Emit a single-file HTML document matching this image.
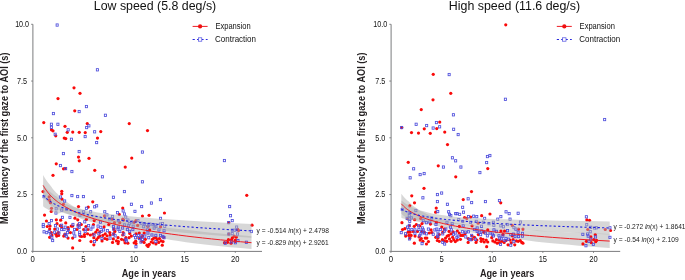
<!DOCTYPE html>
<html><head><meta charset="utf-8"><style>
html,body{margin:0;padding:0;background:#fff;width:685px;height:280px;overflow:hidden}
svg{display:block;will-change:transform}
text{font-family:"Liberation Sans",sans-serif;fill:#231f20}
.t{font-size:12.4px;fill:#111}
.lg{font-size:9.2px;fill:#111}
.tk{font-size:8.9px;fill:#111}
.ax{font-size:10.2px;font-weight:bold}
.eq{font-size:6.9px;fill:#1a1a1a}
</style></head><body>
<svg width="685" height="280" viewBox="0 0 685 280">
<g>
<text class="t" x="93.8" y="10.3" textLength="122.4" lengthAdjust="spacingAndGlyphs">Low speed (5.8 deg/s)</text>
<line x1="192.6" y1="26.4" x2="207.6" y2="26.4" stroke="#ee1c24" stroke-width="1"/>
<circle cx="200.1" cy="26.4" r="2.1" fill="#f01010"/>
<line x1="192.6" y1="39.5" x2="207.6" y2="39.5" stroke="#2b2bdd" stroke-width="1" stroke-dasharray="2.2,2.2"/>
<rect x="198.4" y="37.8" width="3.4" height="3.4" fill="#fff" stroke="#4a4ae0" stroke-width="0.7"/>
<text class="lg" x="215.4" y="28.8" textLength="35.3" lengthAdjust="spacingAndGlyphs">Expansion</text>
<text class="lg" x="215.1" y="41.8" textLength="40.9" lengthAdjust="spacingAndGlyphs">Contraction</text>
<text class="ax" transform="translate(7.6,224) rotate(-90)" x="0" y="0" textLength="171.5" lengthAdjust="spacingAndGlyphs">Mean latency of the first gaze to AOI (s)</text>
<text class="ax" x="121.7" y="276.6" textLength="54.5" lengthAdjust="spacingAndGlyphs">Age in years</text>
<path d="M32.90,24.30 V251.40 H262.0" fill="none" stroke="#7b7c7e" stroke-width="1.0"/>
<line x1="31.10" y1="251.30" x2="32.90" y2="251.30" stroke="#6d6e71" stroke-width="0.8"/>
<text class="tk" x="17.05" y="254.20" textLength="10.1" lengthAdjust="spacingAndGlyphs">0.0</text>
<line x1="31.10" y1="194.55" x2="32.90" y2="194.55" stroke="#6d6e71" stroke-width="0.8"/>
<text class="tk" x="17.05" y="197.45" textLength="10.1" lengthAdjust="spacingAndGlyphs">2.5</text>
<line x1="31.10" y1="137.80" x2="32.90" y2="137.80" stroke="#6d6e71" stroke-width="0.8"/>
<text class="tk" x="17.05" y="140.70" textLength="10.1" lengthAdjust="spacingAndGlyphs">5.0</text>
<line x1="31.10" y1="81.05" x2="32.90" y2="81.05" stroke="#6d6e71" stroke-width="0.8"/>
<text class="tk" x="17.05" y="83.95" textLength="10.1" lengthAdjust="spacingAndGlyphs">7.5</text>
<line x1="31.10" y1="24.30" x2="32.90" y2="24.30" stroke="#6d6e71" stroke-width="0.8"/>
<text class="tk" x="15.15" y="27.20" textLength="13.9" lengthAdjust="spacingAndGlyphs">10.0</text>
<line x1="32.70" y1="251.3" x2="32.70" y2="252.9" stroke="#6d6e71" stroke-width="0.8"/>
<text class="tk" x="30.55" y="261.6" textLength="4.3" lengthAdjust="spacingAndGlyphs">0</text>
<line x1="83.35" y1="251.3" x2="83.35" y2="252.9" stroke="#6d6e71" stroke-width="0.8"/>
<text class="tk" x="81.20" y="261.6" textLength="4.3" lengthAdjust="spacingAndGlyphs">5</text>
<line x1="134.00" y1="251.3" x2="134.00" y2="252.9" stroke="#6d6e71" stroke-width="0.8"/>
<text class="tk" x="129.80" y="261.6" textLength="8.4" lengthAdjust="spacingAndGlyphs">10</text>
<line x1="184.65" y1="251.3" x2="184.65" y2="252.9" stroke="#6d6e71" stroke-width="0.8"/>
<text class="tk" x="180.45" y="261.6" textLength="8.4" lengthAdjust="spacingAndGlyphs">15</text>
<line x1="235.30" y1="251.3" x2="235.30" y2="252.9" stroke="#6d6e71" stroke-width="0.8"/>
<text class="tk" x="231.10" y="261.6" textLength="8.4" lengthAdjust="spacingAndGlyphs">20</text>
<path d="M43.13,174.94 L43.68,175.92 L44.25,176.92 L44.85,177.94 L45.48,178.97 L46.15,180.01 L46.85,181.04 L47.58,182.05 L48.36,183.05 L49.17,184.02 L50.03,185.03 L50.93,186.23 L51.88,187.56 L52.87,188.97 L53.92,190.34 L55.03,191.61 L56.19,192.70 L57.41,193.79 L58.70,195.22 L60.05,196.80 L61.47,198.28 L62.97,199.47 L64.54,200.48 L66.20,201.59 L67.94,202.79 L69.78,204.03 L71.71,205.28 L73.74,206.48 L75.87,207.60 L78.12,208.61 L80.48,209.59 L82.97,210.62 L85.58,211.68 L88.33,212.74 L91.23,213.80 L94.27,214.82 L97.48,215.79 L100.85,216.72 L104.39,217.60 L108.12,218.45 L112.05,219.29 L116.17,220.14 L120.52,221.04 L125.09,221.97 L129.89,222.83 L134.95,223.59 L140.27,224.33 L145.87,225.13 L151.75,226.04 L157.95,226.88 L164.46,227.61 L171.32,228.30 L178.53,229.01 L186.12,229.83 L194.10,230.77 L202.50,231.71 L211.33,232.63 L220.62,233.54 L230.40,234.45 L240.69,235.37 L251.51,236.30 L251.51,249.10 L240.69,248.12 L230.40,247.13 L220.62,246.14 L211.33,245.14 L202.50,244.15 L194.10,243.18 L186.12,242.20 L178.53,241.12 L171.32,239.92 L164.46,238.70 L157.95,237.52 L151.75,236.45 L145.87,235.46 L140.27,234.35 L134.95,233.18 L129.89,232.03 L125.09,230.98 L120.52,230.00 L116.17,228.99 L112.05,227.94 L108.12,226.87 L104.39,225.81 L100.85,224.78 L97.48,223.79 L94.27,222.86 L91.23,221.97 L88.33,221.12 L85.58,220.28 L82.97,219.42 L80.48,218.54 L78.12,217.61 L75.87,216.72 L73.74,215.93 L71.71,215.22 L69.78,214.56 L67.94,213.89 L66.20,213.18 L64.54,212.38 L62.97,211.48 L61.47,210.76 L60.05,210.34 L58.70,210.01 L57.41,209.52 L56.19,208.71 L55.03,207.89 L53.92,207.25 L52.87,206.72 L51.88,206.21 L50.93,205.64 L50.03,204.92 L49.17,204.02 L48.36,203.09 L47.58,202.18 L46.85,201.28 L46.15,200.40 L45.48,199.53 L44.85,198.65 L44.25,197.76 L43.68,196.86 L43.13,195.93 Z" fill="#afafaf" fill-opacity="0.5"/>
<circle cx="74.00" cy="87.80" r="1.6" fill="#fa0a0a"/>
<circle cx="80.00" cy="93.30" r="1.6" fill="#fa0a0a"/>
<circle cx="58.00" cy="98.55" r="1.6" fill="#fa0a0a"/>
<circle cx="74.75" cy="110.80" r="1.6" fill="#fa0a0a"/>
<circle cx="43.75" cy="122.55" r="1.6" fill="#fa0a0a"/>
<circle cx="65.00" cy="126.30" r="1.6" fill="#fa0a0a"/>
<circle cx="87.25" cy="123.55" r="1.6" fill="#fa0a0a"/>
<circle cx="129.25" cy="123.55" r="1.6" fill="#fa0a0a"/>
<circle cx="147.50" cy="130.55" r="1.6" fill="#fa0a0a"/>
<circle cx="51.50" cy="129.80" r="1.6" fill="#fa0a0a"/>
<circle cx="53.00" cy="130.80" r="1.6" fill="#fa0a0a"/>
<circle cx="67.25" cy="132.30" r="1.6" fill="#fa0a0a"/>
<circle cx="72.75" cy="132.05" r="1.6" fill="#fa0a0a"/>
<circle cx="79.25" cy="132.30" r="1.6" fill="#fa0a0a"/>
<circle cx="85.25" cy="132.55" r="1.6" fill="#fa0a0a"/>
<circle cx="100.75" cy="131.55" r="1.6" fill="#fa0a0a"/>
<circle cx="55.75" cy="135.80" r="1.6" fill="#fa0a0a"/>
<circle cx="64.25" cy="138.05" r="1.6" fill="#fa0a0a"/>
<circle cx="65.75" cy="138.55" r="1.6" fill="#fa0a0a"/>
<circle cx="97.50" cy="138.05" r="1.6" fill="#fa0a0a"/>
<circle cx="56.25" cy="163.80" r="1.6" fill="#fa0a0a"/>
<circle cx="78.50" cy="157.05" r="1.6" fill="#fa0a0a"/>
<circle cx="79.25" cy="160.80" r="1.6" fill="#fa0a0a"/>
<circle cx="89.00" cy="158.30" r="1.6" fill="#fa0a0a"/>
<circle cx="131.75" cy="158.05" r="1.6" fill="#fa0a0a"/>
<circle cx="125.25" cy="167.05" r="1.6" fill="#fa0a0a"/>
<circle cx="63.50" cy="168.80" r="1.6" fill="#fa0a0a"/>
<circle cx="65.00" cy="168.55" r="1.6" fill="#fa0a0a"/>
<circle cx="94.75" cy="170.30" r="1.6" fill="#fa0a0a"/>
<circle cx="53.00" cy="175.30" r="1.6" fill="#fa0a0a"/>
<circle cx="43.00" cy="191.55" r="1.6" fill="#fa0a0a"/>
<circle cx="61.75" cy="191.30" r="1.6" fill="#fa0a0a"/>
<circle cx="61.75" cy="193.80" r="1.6" fill="#fa0a0a"/>
<circle cx="62.00" cy="199.05" r="1.6" fill="#fa0a0a"/>
<circle cx="92.75" cy="201.80" r="1.6" fill="#fa0a0a"/>
<circle cx="78.50" cy="206.55" r="1.6" fill="#fa0a0a"/>
<circle cx="88.25" cy="207.05" r="1.6" fill="#fa0a0a"/>
<circle cx="122.75" cy="208.05" r="1.6" fill="#fa0a0a"/>
<circle cx="51.50" cy="208.30" r="1.6" fill="#fa0a0a"/>
<circle cx="246.75" cy="195.30" r="1.6" fill="#fa0a0a"/>
<circle cx="49.15" cy="196.90" r="1.6" fill="#fa0a0a"/>
<circle cx="49.45" cy="200.20" r="1.6" fill="#fa0a0a"/>
<circle cx="50.45" cy="202.70" r="1.6" fill="#fa0a0a"/>
<circle cx="63.35" cy="204.30" r="1.6" fill="#fa0a0a"/>
<circle cx="51.25" cy="211.40" r="1.6" fill="#fa0a0a"/>
<circle cx="119.25" cy="214.40" r="1.6" fill="#fa0a0a"/>
<circle cx="142.45" cy="216.00" r="1.6" fill="#fa0a0a"/>
<circle cx="149.05" cy="215.30" r="1.6" fill="#fa0a0a"/>
<circle cx="112.25" cy="219.20" r="1.6" fill="#fa0a0a"/>
<circle cx="122.75" cy="219.20" r="1.6" fill="#fa0a0a"/>
<circle cx="123.65" cy="220.10" r="1.6" fill="#fa0a0a"/>
<circle cx="134.15" cy="222.30" r="1.6" fill="#fa0a0a"/>
<circle cx="135.95" cy="220.60" r="1.6" fill="#fa0a0a"/>
<circle cx="137.65" cy="225.40" r="1.6" fill="#fa0a0a"/>
<circle cx="114.45" cy="222.70" r="1.6" fill="#fa0a0a"/>
<circle cx="108.75" cy="224.50" r="1.6" fill="#fa0a0a"/>
<circle cx="119.75" cy="222.70" r="1.6" fill="#fa0a0a"/>
<circle cx="147.75" cy="226.30" r="1.6" fill="#fa0a0a"/>
<circle cx="164.45" cy="213.00" r="1.6" fill="#fa0a0a"/>
<circle cx="160.55" cy="226.80" r="1.6" fill="#fa0a0a"/>
<circle cx="228.75" cy="222.60" r="1.6" fill="#fa0a0a"/>
<circle cx="252.05" cy="225.20" r="1.6" fill="#fa0a0a"/>
<circle cx="237.65" cy="229.30" r="1.6" fill="#fa0a0a"/>
<circle cx="238.55" cy="230.60" r="1.6" fill="#fa0a0a"/>
<circle cx="228.85" cy="234.00" r="1.6" fill="#fa0a0a"/>
<circle cx="234.15" cy="236.20" r="1.6" fill="#fa0a0a"/>
<circle cx="236.35" cy="237.10" r="1.6" fill="#fa0a0a"/>
<circle cx="232.35" cy="237.90" r="1.6" fill="#fa0a0a"/>
<circle cx="228.45" cy="239.70" r="1.6" fill="#fa0a0a"/>
<circle cx="231.55" cy="239.70" r="1.6" fill="#fa0a0a"/>
<circle cx="235.45" cy="240.10" r="1.6" fill="#fa0a0a"/>
<circle cx="224.55" cy="242.70" r="1.6" fill="#fa0a0a"/>
<circle cx="227.55" cy="242.30" r="1.6" fill="#fa0a0a"/>
<circle cx="231.05" cy="243.20" r="1.6" fill="#fa0a0a"/>
<circle cx="235.05" cy="241.40" r="1.6" fill="#fa0a0a"/>
<circle cx="72.65" cy="238.10" r="1.6" fill="#fa0a0a"/>
<circle cx="79.75" cy="240.50" r="1.6" fill="#fa0a0a"/>
<circle cx="72.65" cy="247.90" r="1.6" fill="#fa0a0a"/>
<circle cx="80.05" cy="236.10" r="1.6" fill="#fa0a0a"/>
<circle cx="81.65" cy="236.50" r="1.6" fill="#fa0a0a"/>
<circle cx="84.45" cy="234.60" r="1.6" fill="#fa0a0a"/>
<circle cx="84.45" cy="236.50" r="1.6" fill="#fa0a0a"/>
<circle cx="87.55" cy="233.80" r="1.6" fill="#fa0a0a"/>
<circle cx="90.35" cy="235.00" r="1.6" fill="#fa0a0a"/>
<circle cx="91.05" cy="241.60" r="1.6" fill="#fa0a0a"/>
<circle cx="93.85" cy="244.80" r="1.6" fill="#fa0a0a"/>
<circle cx="93.85" cy="237.70" r="1.6" fill="#fa0a0a"/>
<circle cx="96.55" cy="239.70" r="1.6" fill="#fa0a0a"/>
<circle cx="98.15" cy="237.70" r="1.6" fill="#fa0a0a"/>
<circle cx="99.75" cy="236.10" r="1.6" fill="#fa0a0a"/>
<circle cx="102.05" cy="240.90" r="1.6" fill="#fa0a0a"/>
<circle cx="95.75" cy="232.20" r="1.6" fill="#fa0a0a"/>
<circle cx="97.35" cy="229.90" r="1.6" fill="#fa0a0a"/>
<circle cx="99.75" cy="232.20" r="1.6" fill="#fa0a0a"/>
<circle cx="102.85" cy="235.40" r="1.6" fill="#fa0a0a"/>
<circle cx="104.85" cy="238.50" r="1.6" fill="#fa0a0a"/>
<circle cx="105.25" cy="233.80" r="1.6" fill="#fa0a0a"/>
<circle cx="87.95" cy="229.50" r="1.6" fill="#fa0a0a"/>
<circle cx="83.65" cy="229.50" r="1.6" fill="#fa0a0a"/>
<circle cx="76.95" cy="229.50" r="1.6" fill="#fa0a0a"/>
<circle cx="93.05" cy="234.20" r="1.6" fill="#fa0a0a"/>
<circle cx="107.05" cy="235.80" r="1.6" fill="#fa0a0a"/>
<circle cx="107.05" cy="239.30" r="1.6" fill="#fa0a0a"/>
<circle cx="109.75" cy="232.60" r="1.6" fill="#fa0a0a"/>
<circle cx="110.15" cy="235.00" r="1.6" fill="#fa0a0a"/>
<circle cx="112.55" cy="242.40" r="1.6" fill="#fa0a0a"/>
<circle cx="113.75" cy="233.80" r="1.6" fill="#fa0a0a"/>
<circle cx="113.35" cy="238.90" r="1.6" fill="#fa0a0a"/>
<circle cx="114.85" cy="231.40" r="1.6" fill="#fa0a0a"/>
<circle cx="116.45" cy="240.90" r="1.6" fill="#fa0a0a"/>
<circle cx="118.05" cy="243.60" r="1.6" fill="#fa0a0a"/>
<circle cx="118.05" cy="237.70" r="1.6" fill="#fa0a0a"/>
<circle cx="118.45" cy="241.60" r="1.6" fill="#fa0a0a"/>
<circle cx="121.55" cy="239.30" r="1.6" fill="#fa0a0a"/>
<circle cx="122.75" cy="235.00" r="1.6" fill="#fa0a0a"/>
<circle cx="123.15" cy="232.60" r="1.6" fill="#fa0a0a"/>
<circle cx="123.95" cy="240.10" r="1.6" fill="#fa0a0a"/>
<circle cx="125.05" cy="242.80" r="1.6" fill="#fa0a0a"/>
<circle cx="125.85" cy="237.70" r="1.6" fill="#fa0a0a"/>
<circle cx="127.85" cy="243.20" r="1.6" fill="#fa0a0a"/>
<circle cx="129.05" cy="237.70" r="1.6" fill="#fa0a0a"/>
<circle cx="129.75" cy="233.40" r="1.6" fill="#fa0a0a"/>
<circle cx="131.35" cy="236.10" r="1.6" fill="#fa0a0a"/>
<circle cx="134.15" cy="242.80" r="1.6" fill="#fa0a0a"/>
<circle cx="135.65" cy="241.20" r="1.6" fill="#fa0a0a"/>
<circle cx="136.05" cy="243.60" r="1.6" fill="#fa0a0a"/>
<circle cx="136.05" cy="233.80" r="1.6" fill="#fa0a0a"/>
<circle cx="138.85" cy="238.10" r="1.6" fill="#fa0a0a"/>
<circle cx="139.25" cy="233.00" r="1.6" fill="#fa0a0a"/>
<circle cx="114.05" cy="229.10" r="1.6" fill="#fa0a0a"/>
<circle cx="141.05" cy="237.70" r="1.6" fill="#fa0a0a"/>
<circle cx="141.85" cy="241.30" r="1.6" fill="#fa0a0a"/>
<circle cx="144.15" cy="242.40" r="1.6" fill="#fa0a0a"/>
<circle cx="145.35" cy="239.30" r="1.6" fill="#fa0a0a"/>
<circle cx="146.95" cy="245.20" r="1.6" fill="#fa0a0a"/>
<circle cx="148.05" cy="246.40" r="1.6" fill="#fa0a0a"/>
<circle cx="149.25" cy="244.40" r="1.6" fill="#fa0a0a"/>
<circle cx="151.25" cy="242.00" r="1.6" fill="#fa0a0a"/>
<circle cx="152.45" cy="239.30" r="1.6" fill="#fa0a0a"/>
<circle cx="153.25" cy="242.80" r="1.6" fill="#fa0a0a"/>
<circle cx="153.95" cy="238.10" r="1.6" fill="#fa0a0a"/>
<circle cx="155.95" cy="244.00" r="1.6" fill="#fa0a0a"/>
<circle cx="157.15" cy="239.70" r="1.6" fill="#fa0a0a"/>
<circle cx="158.65" cy="242.40" r="1.6" fill="#fa0a0a"/>
<circle cx="159.45" cy="238.50" r="1.6" fill="#fa0a0a"/>
<circle cx="161.05" cy="240.90" r="1.6" fill="#fa0a0a"/>
<circle cx="162.25" cy="245.20" r="1.6" fill="#fa0a0a"/>
<circle cx="163.45" cy="237.30" r="1.6" fill="#fa0a0a"/>
<circle cx="163.05" cy="241.60" r="1.6" fill="#fa0a0a"/>
<circle cx="144.15" cy="233.00" r="1.6" fill="#fa0a0a"/>
<circle cx="149.65" cy="229.90" r="1.6" fill="#fa0a0a"/>
<circle cx="142.65" cy="236.10" r="1.6" fill="#fa0a0a"/>
<circle cx="155.95" cy="237.70" r="1.6" fill="#fa0a0a"/>
<circle cx="49.65" cy="229.10" r="1.6" fill="#fa0a0a"/>
<circle cx="54.75" cy="229.10" r="1.6" fill="#fa0a0a"/>
<circle cx="51.25" cy="232.60" r="1.6" fill="#fa0a0a"/>
<circle cx="51.95" cy="235.00" r="1.6" fill="#fa0a0a"/>
<circle cx="49.65" cy="237.30" r="1.6" fill="#fa0a0a"/>
<circle cx="55.95" cy="234.20" r="1.6" fill="#fa0a0a"/>
<circle cx="56.65" cy="236.10" r="1.6" fill="#fa0a0a"/>
<circle cx="58.65" cy="235.40" r="1.6" fill="#fa0a0a"/>
<circle cx="58.25" cy="232.60" r="1.6" fill="#fa0a0a"/>
<circle cx="63.75" cy="236.10" r="1.6" fill="#fa0a0a"/>
<circle cx="64.95" cy="234.20" r="1.6" fill="#fa0a0a"/>
<circle cx="68.05" cy="238.10" r="1.6" fill="#fa0a0a"/>
<circle cx="70.45" cy="232.60" r="1.6" fill="#fa0a0a"/>
<circle cx="68.05" cy="229.10" r="1.6" fill="#fa0a0a"/>
<circle cx="44.55" cy="215.10" r="1.6" fill="#fa0a0a"/>
<circle cx="46.45" cy="221.00" r="1.6" fill="#fa0a0a"/>
<circle cx="56.35" cy="219.80" r="1.6" fill="#fa0a0a"/>
<circle cx="60.65" cy="220.20" r="1.6" fill="#fa0a0a"/>
<circle cx="65.75" cy="222.90" r="1.6" fill="#fa0a0a"/>
<circle cx="57.05" cy="223.70" r="1.6" fill="#fa0a0a"/>
<circle cx="47.25" cy="226.50" r="1.6" fill="#fa0a0a"/>
<circle cx="50.05" cy="226.10" r="1.6" fill="#fa0a0a"/>
<circle cx="60.25" cy="225.70" r="1.6" fill="#fa0a0a"/>
<circle cx="61.75" cy="226.90" r="1.6" fill="#fa0a0a"/>
<circle cx="68.05" cy="227.60" r="1.6" fill="#fa0a0a"/>
<circle cx="71.25" cy="226.10" r="1.6" fill="#fa0a0a"/>
<circle cx="74.95" cy="218.20" r="1.6" fill="#fa0a0a"/>
<circle cx="77.75" cy="219.80" r="1.6" fill="#fa0a0a"/>
<circle cx="72.65" cy="226.10" r="1.6" fill="#fa0a0a"/>
<circle cx="81.25" cy="224.50" r="1.6" fill="#fa0a0a"/>
<circle cx="78.15" cy="224.90" r="1.6" fill="#fa0a0a"/>
<circle cx="86.35" cy="219.40" r="1.6" fill="#fa0a0a"/>
<circle cx="85.95" cy="226.50" r="1.6" fill="#fa0a0a"/>
<circle cx="93.45" cy="224.50" r="1.6" fill="#fa0a0a"/>
<circle cx="94.25" cy="220.60" r="1.6" fill="#fa0a0a"/>
<circle cx="104.05" cy="226.90" r="1.6" fill="#fa0a0a"/>
<circle cx="104.45" cy="215.90" r="1.6" fill="#fa0a0a"/>
<rect x="56.10" y="23.90" width="2.1" height="2.3" fill="none" stroke="#4f4fdc" stroke-width="0.85"/>
<rect x="96.35" y="68.65" width="2.1" height="2.3" fill="none" stroke="#4f4fdc" stroke-width="0.85"/>
<rect x="85.35" y="105.40" width="2.1" height="2.3" fill="none" stroke="#4f4fdc" stroke-width="0.85"/>
<rect x="52.35" y="112.40" width="2.1" height="2.3" fill="none" stroke="#4f4fdc" stroke-width="0.85"/>
<rect x="78.10" y="110.40" width="2.1" height="2.3" fill="none" stroke="#4f4fdc" stroke-width="0.85"/>
<rect x="104.35" y="114.15" width="2.1" height="2.3" fill="none" stroke="#4f4fdc" stroke-width="0.85"/>
<rect x="50.35" y="123.15" width="2.1" height="2.3" fill="none" stroke="#4f4fdc" stroke-width="0.85"/>
<rect x="56.85" y="123.15" width="2.1" height="2.3" fill="none" stroke="#4f4fdc" stroke-width="0.85"/>
<rect x="50.35" y="126.15" width="2.1" height="2.3" fill="none" stroke="#4f4fdc" stroke-width="0.85"/>
<rect x="67.10" y="128.65" width="2.1" height="2.3" fill="none" stroke="#4f4fdc" stroke-width="0.85"/>
<rect x="87.85" y="124.65" width="2.1" height="2.3" fill="none" stroke="#4f4fdc" stroke-width="0.85"/>
<rect x="85.60" y="126.40" width="2.1" height="2.3" fill="none" stroke="#4f4fdc" stroke-width="0.85"/>
<rect x="93.60" y="130.65" width="2.1" height="2.3" fill="none" stroke="#4f4fdc" stroke-width="0.85"/>
<rect x="54.10" y="133.15" width="2.1" height="2.3" fill="none" stroke="#4f4fdc" stroke-width="0.85"/>
<rect x="84.10" y="135.40" width="2.1" height="2.3" fill="none" stroke="#4f4fdc" stroke-width="0.85"/>
<rect x="70.35" y="138.15" width="2.1" height="2.3" fill="none" stroke="#4f4fdc" stroke-width="0.85"/>
<rect x="95.60" y="141.40" width="2.1" height="2.3" fill="none" stroke="#4f4fdc" stroke-width="0.85"/>
<rect x="62.35" y="152.40" width="2.1" height="2.3" fill="none" stroke="#4f4fdc" stroke-width="0.85"/>
<rect x="78.10" y="150.40" width="2.1" height="2.3" fill="none" stroke="#4f4fdc" stroke-width="0.85"/>
<rect x="141.35" y="150.90" width="2.1" height="2.3" fill="none" stroke="#4f4fdc" stroke-width="0.85"/>
<rect x="59.35" y="164.40" width="2.1" height="2.3" fill="none" stroke="#4f4fdc" stroke-width="0.85"/>
<rect x="64.60" y="167.40" width="2.1" height="2.3" fill="none" stroke="#4f4fdc" stroke-width="0.85"/>
<rect x="70.85" y="170.40" width="2.1" height="2.3" fill="none" stroke="#4f4fdc" stroke-width="0.85"/>
<rect x="101.35" y="175.65" width="2.1" height="2.3" fill="none" stroke="#4f4fdc" stroke-width="0.85"/>
<rect x="141.35" y="180.65" width="2.1" height="2.3" fill="none" stroke="#4f4fdc" stroke-width="0.85"/>
<rect x="70.85" y="194.40" width="2.1" height="2.3" fill="none" stroke="#4f4fdc" stroke-width="0.85"/>
<rect x="76.60" y="195.40" width="2.1" height="2.3" fill="none" stroke="#4f4fdc" stroke-width="0.85"/>
<rect x="82.35" y="195.40" width="2.1" height="2.3" fill="none" stroke="#4f4fdc" stroke-width="0.85"/>
<rect x="112.35" y="196.15" width="2.1" height="2.3" fill="none" stroke="#4f4fdc" stroke-width="0.85"/>
<rect x="123.35" y="190.40" width="2.1" height="2.3" fill="none" stroke="#4f4fdc" stroke-width="0.85"/>
<rect x="59.35" y="195.90" width="2.1" height="2.3" fill="none" stroke="#4f4fdc" stroke-width="0.85"/>
<rect x="63.60" y="199.90" width="2.1" height="2.3" fill="none" stroke="#4f4fdc" stroke-width="0.85"/>
<rect x="130.35" y="203.15" width="2.1" height="2.3" fill="none" stroke="#4f4fdc" stroke-width="0.85"/>
<rect x="140.60" y="205.40" width="2.1" height="2.3" fill="none" stroke="#4f4fdc" stroke-width="0.85"/>
<rect x="150.35" y="201.90" width="2.1" height="2.3" fill="none" stroke="#4f4fdc" stroke-width="0.85"/>
<rect x="159.35" y="198.40" width="2.1" height="2.3" fill="none" stroke="#4f4fdc" stroke-width="0.85"/>
<rect x="95.60" y="204.65" width="2.1" height="2.3" fill="none" stroke="#4f4fdc" stroke-width="0.85"/>
<rect x="93.60" y="205.65" width="2.1" height="2.3" fill="none" stroke="#4f4fdc" stroke-width="0.85"/>
<rect x="85.35" y="207.15" width="2.1" height="2.3" fill="none" stroke="#4f4fdc" stroke-width="0.85"/>
<rect x="223.35" y="159.40" width="2.1" height="2.3" fill="none" stroke="#4f4fdc" stroke-width="0.85"/>
<rect x="228.60" y="205.40" width="2.1" height="2.3" fill="none" stroke="#4f4fdc" stroke-width="0.85"/>
<rect x="42.90" y="195.45" width="2.1" height="2.3" fill="none" stroke="#4f4fdc" stroke-width="0.85"/>
<rect x="60.70" y="208.95" width="2.1" height="2.3" fill="none" stroke="#4f4fdc" stroke-width="0.85"/>
<rect x="65.60" y="208.05" width="2.1" height="2.3" fill="none" stroke="#4f4fdc" stroke-width="0.85"/>
<rect x="89.60" y="210.65" width="2.1" height="2.3" fill="none" stroke="#4f4fdc" stroke-width="0.85"/>
<rect x="82.60" y="210.65" width="2.1" height="2.3" fill="none" stroke="#4f4fdc" stroke-width="0.85"/>
<rect x="55.10" y="207.65" width="2.1" height="2.3" fill="none" stroke="#4f4fdc" stroke-width="0.85"/>
<rect x="103.70" y="210.65" width="2.1" height="2.3" fill="none" stroke="#4f4fdc" stroke-width="0.85"/>
<rect x="116.40" y="211.55" width="2.1" height="2.3" fill="none" stroke="#4f4fdc" stroke-width="0.85"/>
<rect x="122.10" y="209.75" width="2.1" height="2.3" fill="none" stroke="#4f4fdc" stroke-width="0.85"/>
<rect x="123.40" y="212.85" width="2.1" height="2.3" fill="none" stroke="#4f4fdc" stroke-width="0.85"/>
<rect x="124.70" y="215.95" width="2.1" height="2.3" fill="none" stroke="#4f4fdc" stroke-width="0.85"/>
<rect x="133.90" y="210.25" width="2.1" height="2.3" fill="none" stroke="#4f4fdc" stroke-width="0.85"/>
<rect x="105.90" y="213.75" width="2.1" height="2.3" fill="none" stroke="#4f4fdc" stroke-width="0.85"/>
<rect x="111.50" y="215.45" width="2.1" height="2.3" fill="none" stroke="#4f4fdc" stroke-width="0.85"/>
<rect x="108.50" y="217.65" width="2.1" height="2.3" fill="none" stroke="#4f4fdc" stroke-width="0.85"/>
<rect x="117.20" y="219.45" width="2.1" height="2.3" fill="none" stroke="#4f4fdc" stroke-width="0.85"/>
<rect x="126.90" y="218.95" width="2.1" height="2.3" fill="none" stroke="#4f4fdc" stroke-width="0.85"/>
<rect x="128.20" y="222.45" width="2.1" height="2.3" fill="none" stroke="#4f4fdc" stroke-width="0.85"/>
<rect x="130.80" y="220.75" width="2.1" height="2.3" fill="none" stroke="#4f4fdc" stroke-width="0.85"/>
<rect x="136.90" y="219.45" width="2.1" height="2.3" fill="none" stroke="#4f4fdc" stroke-width="0.85"/>
<rect x="140.00" y="222.05" width="2.1" height="2.3" fill="none" stroke="#4f4fdc" stroke-width="0.85"/>
<rect x="143.10" y="222.45" width="2.1" height="2.3" fill="none" stroke="#4f4fdc" stroke-width="0.85"/>
<rect x="145.70" y="223.35" width="2.1" height="2.3" fill="none" stroke="#4f4fdc" stroke-width="0.85"/>
<rect x="148.80" y="222.95" width="2.1" height="2.3" fill="none" stroke="#4f4fdc" stroke-width="0.85"/>
<rect x="151.80" y="223.35" width="2.1" height="2.3" fill="none" stroke="#4f4fdc" stroke-width="0.85"/>
<rect x="154.50" y="223.75" width="2.1" height="2.3" fill="none" stroke="#4f4fdc" stroke-width="0.85"/>
<rect x="112.40" y="225.55" width="2.1" height="2.3" fill="none" stroke="#4f4fdc" stroke-width="0.85"/>
<rect x="117.20" y="225.95" width="2.1" height="2.3" fill="none" stroke="#4f4fdc" stroke-width="0.85"/>
<rect x="121.60" y="226.85" width="2.1" height="2.3" fill="none" stroke="#4f4fdc" stroke-width="0.85"/>
<rect x="123.40" y="223.75" width="2.1" height="2.3" fill="none" stroke="#4f4fdc" stroke-width="0.85"/>
<rect x="127.30" y="224.65" width="2.1" height="2.3" fill="none" stroke="#4f4fdc" stroke-width="0.85"/>
<rect x="132.10" y="225.15" width="2.1" height="2.3" fill="none" stroke="#4f4fdc" stroke-width="0.85"/>
<rect x="142.60" y="225.55" width="2.1" height="2.3" fill="none" stroke="#4f4fdc" stroke-width="0.85"/>
<rect x="147.40" y="224.65" width="2.1" height="2.3" fill="none" stroke="#4f4fdc" stroke-width="0.85"/>
<rect x="153.10" y="226.85" width="2.1" height="2.3" fill="none" stroke="#4f4fdc" stroke-width="0.85"/>
<rect x="159.50" y="217.25" width="2.1" height="2.3" fill="none" stroke="#4f4fdc" stroke-width="0.85"/>
<rect x="161.50" y="222.55" width="2.1" height="2.3" fill="none" stroke="#4f4fdc" stroke-width="0.85"/>
<rect x="159.40" y="222.95" width="2.1" height="2.3" fill="none" stroke="#4f4fdc" stroke-width="0.85"/>
<rect x="163.70" y="225.15" width="2.1" height="2.3" fill="none" stroke="#4f4fdc" stroke-width="0.85"/>
<rect x="155.00" y="225.15" width="2.1" height="2.3" fill="none" stroke="#4f4fdc" stroke-width="0.85"/>
<rect x="229.50" y="214.55" width="2.1" height="2.3" fill="none" stroke="#4f4fdc" stroke-width="0.85"/>
<rect x="231.20" y="219.45" width="2.1" height="2.3" fill="none" stroke="#4f4fdc" stroke-width="0.85"/>
<rect x="227.60" y="221.45" width="2.1" height="2.3" fill="none" stroke="#4f4fdc" stroke-width="0.85"/>
<rect x="235.60" y="225.95" width="2.1" height="2.3" fill="none" stroke="#4f4fdc" stroke-width="0.85"/>
<rect x="231.20" y="229.05" width="2.1" height="2.3" fill="none" stroke="#4f4fdc" stroke-width="0.85"/>
<rect x="233.90" y="229.05" width="2.1" height="2.3" fill="none" stroke="#4f4fdc" stroke-width="0.85"/>
<rect x="250.30" y="230.35" width="2.1" height="2.3" fill="none" stroke="#4f4fdc" stroke-width="0.85"/>
<rect x="227.70" y="232.85" width="2.1" height="2.3" fill="none" stroke="#4f4fdc" stroke-width="0.85"/>
<rect x="231.20" y="232.45" width="2.1" height="2.3" fill="none" stroke="#4f4fdc" stroke-width="0.85"/>
<rect x="236.50" y="232.85" width="2.1" height="2.3" fill="none" stroke="#4f4fdc" stroke-width="0.85"/>
<rect x="236.90" y="239.45" width="2.1" height="2.3" fill="none" stroke="#4f4fdc" stroke-width="0.85"/>
<rect x="234.30" y="241.55" width="2.1" height="2.3" fill="none" stroke="#4f4fdc" stroke-width="0.85"/>
<rect x="245.30" y="241.15" width="2.1" height="2.3" fill="none" stroke="#4f4fdc" stroke-width="0.85"/>
<rect x="230.40" y="240.75" width="2.1" height="2.3" fill="none" stroke="#4f4fdc" stroke-width="0.85"/>
<rect x="224.20" y="242.05" width="2.1" height="2.3" fill="none" stroke="#4f4fdc" stroke-width="0.85"/>
<rect x="73.50" y="228.35" width="2.1" height="2.3" fill="none" stroke="#4f4fdc" stroke-width="0.85"/>
<rect x="72.70" y="231.85" width="2.1" height="2.3" fill="none" stroke="#4f4fdc" stroke-width="0.85"/>
<rect x="73.80" y="234.95" width="2.1" height="2.3" fill="none" stroke="#4f4fdc" stroke-width="0.85"/>
<rect x="78.60" y="231.05" width="2.1" height="2.3" fill="none" stroke="#4f4fdc" stroke-width="0.85"/>
<rect x="78.60" y="233.45" width="2.1" height="2.3" fill="none" stroke="#4f4fdc" stroke-width="0.85"/>
<rect x="84.10" y="230.25" width="2.1" height="2.3" fill="none" stroke="#4f4fdc" stroke-width="0.85"/>
<rect x="84.80" y="227.95" width="2.1" height="2.3" fill="none" stroke="#4f4fdc" stroke-width="0.85"/>
<rect x="93.50" y="240.45" width="2.1" height="2.3" fill="none" stroke="#4f4fdc" stroke-width="0.85"/>
<rect x="93.10" y="233.85" width="2.1" height="2.3" fill="none" stroke="#4f4fdc" stroke-width="0.85"/>
<rect x="97.80" y="232.65" width="2.1" height="2.3" fill="none" stroke="#4f4fdc" stroke-width="0.85"/>
<rect x="100.90" y="237.35" width="2.1" height="2.3" fill="none" stroke="#4f4fdc" stroke-width="0.85"/>
<rect x="102.50" y="228.75" width="2.1" height="2.3" fill="none" stroke="#4f4fdc" stroke-width="0.85"/>
<rect x="89.90" y="227.95" width="2.1" height="2.3" fill="none" stroke="#4f4fdc" stroke-width="0.85"/>
<rect x="100.10" y="230.25" width="2.1" height="2.3" fill="none" stroke="#4f4fdc" stroke-width="0.85"/>
<rect x="106.30" y="229.55" width="2.1" height="2.3" fill="none" stroke="#4f4fdc" stroke-width="0.85"/>
<rect x="109.00" y="236.95" width="2.1" height="2.3" fill="none" stroke="#4f4fdc" stroke-width="0.85"/>
<rect x="112.20" y="233.05" width="2.1" height="2.3" fill="none" stroke="#4f4fdc" stroke-width="0.85"/>
<rect x="114.10" y="234.65" width="2.1" height="2.3" fill="none" stroke="#4f4fdc" stroke-width="0.85"/>
<rect x="112.60" y="227.95" width="2.1" height="2.3" fill="none" stroke="#4f4fdc" stroke-width="0.85"/>
<rect x="116.90" y="227.95" width="2.1" height="2.3" fill="none" stroke="#4f4fdc" stroke-width="0.85"/>
<rect x="118.80" y="230.25" width="2.1" height="2.3" fill="none" stroke="#4f4fdc" stroke-width="0.85"/>
<rect x="122.80" y="233.05" width="2.1" height="2.3" fill="none" stroke="#4f4fdc" stroke-width="0.85"/>
<rect x="124.70" y="238.15" width="2.1" height="2.3" fill="none" stroke="#4f4fdc" stroke-width="0.85"/>
<rect x="125.50" y="239.75" width="2.1" height="2.3" fill="none" stroke="#4f4fdc" stroke-width="0.85"/>
<rect x="128.60" y="230.25" width="2.1" height="2.3" fill="none" stroke="#4f4fdc" stroke-width="0.85"/>
<rect x="133.40" y="234.25" width="2.1" height="2.3" fill="none" stroke="#4f4fdc" stroke-width="0.85"/>
<rect x="134.50" y="236.55" width="2.1" height="2.3" fill="none" stroke="#4f4fdc" stroke-width="0.85"/>
<rect x="134.90" y="245.55" width="2.1" height="2.3" fill="none" stroke="#4f4fdc" stroke-width="0.85"/>
<rect x="137.30" y="234.25" width="2.1" height="2.3" fill="none" stroke="#4f4fdc" stroke-width="0.85"/>
<rect x="138.50" y="237.35" width="2.1" height="2.3" fill="none" stroke="#4f4fdc" stroke-width="0.85"/>
<rect x="126.30" y="228.35" width="2.1" height="2.3" fill="none" stroke="#4f4fdc" stroke-width="0.85"/>
<rect x="131.80" y="228.35" width="2.1" height="2.3" fill="none" stroke="#4f4fdc" stroke-width="0.85"/>
<rect x="140.70" y="234.65" width="2.1" height="2.3" fill="none" stroke="#4f4fdc" stroke-width="0.85"/>
<rect x="141.50" y="238.15" width="2.1" height="2.3" fill="none" stroke="#4f4fdc" stroke-width="0.85"/>
<rect x="143.80" y="234.95" width="2.1" height="2.3" fill="none" stroke="#4f4fdc" stroke-width="0.85"/>
<rect x="146.90" y="231.85" width="2.1" height="2.3" fill="none" stroke="#4f4fdc" stroke-width="0.85"/>
<rect x="147.70" y="236.55" width="2.1" height="2.3" fill="none" stroke="#4f4fdc" stroke-width="0.85"/>
<rect x="150.90" y="233.85" width="2.1" height="2.3" fill="none" stroke="#4f4fdc" stroke-width="0.85"/>
<rect x="154.80" y="234.25" width="2.1" height="2.3" fill="none" stroke="#4f4fdc" stroke-width="0.85"/>
<rect x="154.80" y="240.45" width="2.1" height="2.3" fill="none" stroke="#4f4fdc" stroke-width="0.85"/>
<rect x="159.50" y="234.25" width="2.1" height="2.3" fill="none" stroke="#4f4fdc" stroke-width="0.85"/>
<rect x="161.90" y="235.35" width="2.1" height="2.3" fill="none" stroke="#4f4fdc" stroke-width="0.85"/>
<rect x="163.00" y="236.55" width="2.1" height="2.3" fill="none" stroke="#4f4fdc" stroke-width="0.85"/>
<rect x="139.90" y="240.85" width="2.1" height="2.3" fill="none" stroke="#4f4fdc" stroke-width="0.85"/>
<rect x="146.20" y="228.75" width="2.1" height="2.3" fill="none" stroke="#4f4fdc" stroke-width="0.85"/>
<rect x="157.90" y="228.75" width="2.1" height="2.3" fill="none" stroke="#4f4fdc" stroke-width="0.85"/>
<rect x="163.00" y="229.55" width="2.1" height="2.3" fill="none" stroke="#4f4fdc" stroke-width="0.85"/>
<rect x="43.00" y="230.65" width="2.1" height="2.3" fill="none" stroke="#4f4fdc" stroke-width="0.85"/>
<rect x="45.70" y="231.45" width="2.1" height="2.3" fill="none" stroke="#4f4fdc" stroke-width="0.85"/>
<rect x="48.10" y="230.25" width="2.1" height="2.3" fill="none" stroke="#4f4fdc" stroke-width="0.85"/>
<rect x="49.70" y="233.05" width="2.1" height="2.3" fill="none" stroke="#4f4fdc" stroke-width="0.85"/>
<rect x="50.80" y="236.55" width="2.1" height="2.3" fill="none" stroke="#4f4fdc" stroke-width="0.85"/>
<rect x="51.60" y="239.35" width="2.1" height="2.3" fill="none" stroke="#4f4fdc" stroke-width="0.85"/>
<rect x="53.60" y="231.05" width="2.1" height="2.3" fill="none" stroke="#4f4fdc" stroke-width="0.85"/>
<rect x="56.30" y="227.95" width="2.1" height="2.3" fill="none" stroke="#4f4fdc" stroke-width="0.85"/>
<rect x="57.90" y="231.85" width="2.1" height="2.3" fill="none" stroke="#4f4fdc" stroke-width="0.85"/>
<rect x="60.60" y="228.35" width="2.1" height="2.3" fill="none" stroke="#4f4fdc" stroke-width="0.85"/>
<rect x="63.00" y="228.35" width="2.1" height="2.3" fill="none" stroke="#4f4fdc" stroke-width="0.85"/>
<rect x="64.20" y="233.45" width="2.1" height="2.3" fill="none" stroke="#4f4fdc" stroke-width="0.85"/>
<rect x="65.40" y="234.95" width="2.1" height="2.3" fill="none" stroke="#4f4fdc" stroke-width="0.85"/>
<rect x="66.50" y="231.45" width="2.1" height="2.3" fill="none" stroke="#4f4fdc" stroke-width="0.85"/>
<rect x="67.30" y="228.35" width="2.1" height="2.3" fill="none" stroke="#4f4fdc" stroke-width="0.85"/>
<rect x="50.40" y="219.45" width="2.1" height="2.3" fill="none" stroke="#4f4fdc" stroke-width="0.85"/>
<rect x="48.10" y="222.55" width="2.1" height="2.3" fill="none" stroke="#4f4fdc" stroke-width="0.85"/>
<rect x="42.20" y="223.35" width="2.1" height="2.3" fill="none" stroke="#4f4fdc" stroke-width="0.85"/>
<rect x="42.20" y="225.35" width="2.1" height="2.3" fill="none" stroke="#4f4fdc" stroke-width="0.85"/>
<rect x="54.40" y="224.55" width="2.1" height="2.3" fill="none" stroke="#4f4fdc" stroke-width="0.85"/>
<rect x="61.40" y="216.25" width="2.1" height="2.3" fill="none" stroke="#4f4fdc" stroke-width="0.85"/>
<rect x="68.90" y="216.25" width="2.1" height="2.3" fill="none" stroke="#4f4fdc" stroke-width="0.85"/>
<rect x="60.60" y="224.15" width="2.1" height="2.3" fill="none" stroke="#4f4fdc" stroke-width="0.85"/>
<rect x="64.20" y="226.05" width="2.1" height="2.3" fill="none" stroke="#4f4fdc" stroke-width="0.85"/>
<rect x="54.90" y="211.85" width="2.1" height="2.3" fill="none" stroke="#4f4fdc" stroke-width="0.85"/>
<rect x="83.70" y="220.65" width="2.1" height="2.3" fill="none" stroke="#4f4fdc" stroke-width="0.85"/>
<rect x="87.60" y="224.55" width="2.1" height="2.3" fill="none" stroke="#4f4fdc" stroke-width="0.85"/>
<rect x="77.00" y="224.95" width="2.1" height="2.3" fill="none" stroke="#4f4fdc" stroke-width="0.85"/>
<rect x="78.20" y="226.15" width="2.1" height="2.3" fill="none" stroke="#4f4fdc" stroke-width="0.85"/>
<rect x="78.60" y="222.55" width="2.1" height="2.3" fill="none" stroke="#4f4fdc" stroke-width="0.85"/>
<rect x="91.90" y="225.75" width="2.1" height="2.3" fill="none" stroke="#4f4fdc" stroke-width="0.85"/>
<rect x="97.00" y="224.95" width="2.1" height="2.3" fill="none" stroke="#4f4fdc" stroke-width="0.85"/>
<rect x="99.70" y="226.15" width="2.1" height="2.3" fill="none" stroke="#4f4fdc" stroke-width="0.85"/>
<rect x="99.40" y="220.95" width="2.1" height="2.3" fill="none" stroke="#4f4fdc" stroke-width="0.85"/>
<rect x="71.90" y="223.35" width="2.1" height="2.3" fill="none" stroke="#4f4fdc" stroke-width="0.85"/>
<rect x="78.90" y="213.95" width="2.1" height="2.3" fill="none" stroke="#4f4fdc" stroke-width="0.85"/>
<path d="M43.13,184.37 L43.68,185.04 L44.25,185.78 L44.85,186.57 L45.48,187.39 L46.15,188.22 L46.85,189.03 L47.58,189.81 L48.36,190.53 L49.17,191.18 L50.03,191.80 L50.93,192.51 L51.88,193.29 L52.87,194.11 L53.92,194.91 L55.03,195.66 L56.19,196.32 L57.41,197.15 L58.70,198.56 L60.05,200.24 L61.47,201.77 L62.97,202.78 L64.54,203.39 L66.20,204.06 L67.94,204.76 L69.78,205.49 L71.71,206.22 L73.74,206.93 L75.87,207.60 L78.12,208.21 L80.48,208.81 L82.97,209.42 L85.58,210.03 L88.33,210.64 L91.23,211.26 L94.27,211.86 L97.48,212.46 L100.85,213.00 L104.39,213.47 L108.12,213.90 L112.05,214.31 L116.17,214.74 L120.52,215.23 L125.09,215.80 L129.89,216.31 L134.95,216.73 L140.27,217.14 L145.87,217.60 L151.75,218.15 L157.95,218.67 L164.46,219.10 L171.32,219.50 L178.53,219.93 L186.12,220.43 L194.10,221.00 L202.50,221.53 L211.33,222.02 L220.62,222.48 L230.40,222.95 L240.69,223.44 L251.51,223.97 L251.51,237.75 L240.69,237.10 L230.40,236.41 L220.62,235.69 L211.33,234.97 L202.50,234.27 L194.10,233.62 L186.12,233.01 L178.53,232.32 L171.32,231.56 L164.46,230.78 L157.95,230.03 L151.75,229.36 L145.87,228.74 L140.27,228.01 L134.95,227.23 L129.89,226.48 L125.09,225.80 L120.52,225.18 L116.17,224.49 L112.05,223.74 L108.12,222.97 L104.39,222.21 L100.85,221.50 L97.48,220.86 L94.27,220.27 L91.23,219.69 L88.33,219.12 L85.58,218.55 L82.97,217.98 L80.48,217.40 L78.12,216.81 L75.87,216.25 L73.74,215.74 L71.71,215.26 L69.78,214.80 L67.94,214.35 L66.20,213.87 L64.54,213.35 L62.97,212.78 L61.47,212.61 L60.05,212.95 L58.70,213.45 L57.41,213.68 L56.19,213.32 L55.03,212.80 L53.92,212.36 L52.87,211.98 L51.88,211.62 L50.93,211.22 L50.03,210.74 L49.17,210.18 L48.36,209.65 L47.58,209.18 L46.85,208.78 L46.15,208.41 L45.48,208.05 L44.85,207.69 L44.25,207.30 L43.68,206.85 L43.13,206.34 Z" fill="#afafaf" fill-opacity="0.5"/>
<path d="M43.13,185.43 L43.68,186.39 L44.25,187.34 L44.85,188.30 L45.48,189.25 L46.15,190.21 L46.85,191.16 L47.58,192.11 L48.36,193.07 L49.17,194.02 L50.03,194.98 L50.93,195.93 L51.88,196.89 L52.87,197.84 L53.92,198.80 L55.03,199.75 L56.19,200.70 L57.41,201.66 L58.70,202.61 L60.05,203.57 L61.47,204.52 L62.97,205.48 L64.54,206.43 L66.20,207.39 L67.94,208.34 L69.78,209.29 L71.71,210.25 L73.74,211.20 L75.87,212.16 L78.12,213.11 L80.48,214.07 L82.97,215.02 L85.58,215.98 L88.33,216.93 L91.23,217.88 L94.27,218.84 L97.48,219.79 L100.85,220.75 L104.39,221.70 L108.12,222.66 L112.05,223.61 L116.17,224.57 L120.52,225.52 L125.09,226.47 L129.89,227.43 L134.95,228.38 L140.27,229.34 L145.87,230.29 L151.75,231.25 L157.95,232.20 L164.46,233.16 L171.32,234.11 L178.53,235.06 L186.12,236.02 L194.10,236.97 L202.50,237.93 L211.33,238.88 L220.62,239.84 L230.40,240.79 L240.69,241.75 L251.51,242.70" fill="none" stroke="#ee1c24" stroke-width="1"/>
<path d="M43.13,195.35 L43.68,195.95 L44.25,196.54 L44.85,197.13 L45.48,197.72 L46.15,198.31 L46.85,198.90 L47.58,199.50 L48.36,200.09 L49.17,200.68 L50.03,201.27 L50.93,201.86 L51.88,202.45 L52.87,203.05 L53.92,203.64 L55.03,204.23 L56.19,204.82 L57.41,205.41 L58.70,206.01 L60.05,206.60 L61.47,207.19 L62.97,207.78 L64.54,208.37 L66.20,208.96 L67.94,209.56 L69.78,210.15 L71.71,210.74 L73.74,211.33 L75.87,211.92 L78.12,212.51 L80.48,213.11 L82.97,213.70 L85.58,214.29 L88.33,214.88 L91.23,215.47 L94.27,216.07 L97.48,216.66 L100.85,217.25 L104.39,217.84 L108.12,218.43 L112.05,219.02 L116.17,219.62 L120.52,220.21 L125.09,220.80 L129.89,221.39 L134.95,221.98 L140.27,222.58 L145.87,223.17 L151.75,223.76 L157.95,224.35 L164.46,224.94 L171.32,225.53 L178.53,226.13 L186.12,226.72 L194.10,227.31 L202.50,227.90 L211.33,228.49 L220.62,229.08 L230.40,229.68 L240.69,230.27 L251.51,230.86" fill="none" stroke="#2020e0" stroke-width="1.1" stroke-dasharray="2.2,2.2"/>
<text class="eq" x="256.6" y="232.9" textLength="72.4" lengthAdjust="spacingAndGlyphs">y = -0.514 <tspan font-style="italic">ln</tspan>(x) + 2.4798</text>
<text class="eq" x="256.6" y="245.0" textLength="72.0" lengthAdjust="spacingAndGlyphs">y = -0.829 <tspan font-style="italic">ln</tspan>(x) + 2.9261</text>
</g>
<g>
<text class="t" x="448.8" y="10.3" textLength="131.3" lengthAdjust="spacingAndGlyphs">High speed (11.6 deg/s)</text>
<line x1="556.8" y1="26.4" x2="571.8" y2="26.4" stroke="#ee1c24" stroke-width="1"/>
<circle cx="564.3" cy="26.4" r="2.1" fill="#f01010"/>
<line x1="556.8" y1="39.5" x2="571.8" y2="39.5" stroke="#2b2bdd" stroke-width="1" stroke-dasharray="2.2,2.2"/>
<rect x="562.5999999999999" y="37.8" width="3.4" height="3.4" fill="#fff" stroke="#4a4ae0" stroke-width="0.7"/>
<text class="lg" x="579.6" y="28.8" textLength="35.3" lengthAdjust="spacingAndGlyphs">Expansion</text>
<text class="lg" x="579.3" y="41.8" textLength="40.9" lengthAdjust="spacingAndGlyphs">Contraction</text>
<text class="ax" transform="translate(365.0,224) rotate(-90)" x="0" y="0" textLength="171.5" lengthAdjust="spacingAndGlyphs">Mean latency of the first gaze to AOI (s)</text>
<text class="ax" x="479.9" y="276.6" textLength="54.5" lengthAdjust="spacingAndGlyphs">Age in years</text>
<path d="M391.10,24.30 V251.40 H620.2" fill="none" stroke="#7b7c7e" stroke-width="1.0"/>
<line x1="389.30" y1="251.30" x2="391.10" y2="251.30" stroke="#6d6e71" stroke-width="0.8"/>
<text class="tk" x="375.25" y="254.20" textLength="10.1" lengthAdjust="spacingAndGlyphs">0.0</text>
<line x1="389.30" y1="194.55" x2="391.10" y2="194.55" stroke="#6d6e71" stroke-width="0.8"/>
<text class="tk" x="375.25" y="197.45" textLength="10.1" lengthAdjust="spacingAndGlyphs">2.5</text>
<line x1="389.30" y1="137.80" x2="391.10" y2="137.80" stroke="#6d6e71" stroke-width="0.8"/>
<text class="tk" x="375.25" y="140.70" textLength="10.1" lengthAdjust="spacingAndGlyphs">5.0</text>
<line x1="389.30" y1="81.05" x2="391.10" y2="81.05" stroke="#6d6e71" stroke-width="0.8"/>
<text class="tk" x="375.25" y="83.95" textLength="10.1" lengthAdjust="spacingAndGlyphs">7.5</text>
<line x1="389.30" y1="24.30" x2="391.10" y2="24.30" stroke="#6d6e71" stroke-width="0.8"/>
<text class="tk" x="373.35" y="27.20" textLength="13.9" lengthAdjust="spacingAndGlyphs">10.0</text>
<line x1="390.90" y1="251.3" x2="390.90" y2="252.9" stroke="#6d6e71" stroke-width="0.8"/>
<text class="tk" x="388.75" y="261.6" textLength="4.3" lengthAdjust="spacingAndGlyphs">0</text>
<line x1="441.55" y1="251.3" x2="441.55" y2="252.9" stroke="#6d6e71" stroke-width="0.8"/>
<text class="tk" x="439.40" y="261.6" textLength="4.3" lengthAdjust="spacingAndGlyphs">5</text>
<line x1="492.20" y1="251.3" x2="492.20" y2="252.9" stroke="#6d6e71" stroke-width="0.8"/>
<text class="tk" x="488.00" y="261.6" textLength="8.4" lengthAdjust="spacingAndGlyphs">10</text>
<line x1="542.85" y1="251.3" x2="542.85" y2="252.9" stroke="#6d6e71" stroke-width="0.8"/>
<text class="tk" x="538.65" y="261.6" textLength="8.4" lengthAdjust="spacingAndGlyphs">15</text>
<line x1="593.50" y1="251.3" x2="593.50" y2="252.9" stroke="#6d6e71" stroke-width="0.8"/>
<text class="tk" x="589.30" y="261.6" textLength="8.4" lengthAdjust="spacingAndGlyphs">20</text>
<path d="M401.33,193.80 L401.88,194.47 L402.45,195.19 L403.05,195.95 L403.68,196.72 L404.35,197.50 L405.05,198.27 L405.78,199.01 L406.56,199.72 L407.37,200.38 L408.23,201.06 L409.13,201.92 L410.08,202.92 L411.07,203.99 L412.12,205.04 L413.23,205.97 L414.39,206.73 L415.61,207.46 L416.90,208.43 L418.25,209.52 L419.67,210.54 L421.17,211.34 L422.74,212.01 L424.40,212.79 L426.14,213.65 L427.98,214.57 L429.91,215.48 L431.94,216.35 L434.07,217.14 L436.32,217.82 L438.68,218.47 L441.17,219.16 L443.78,219.88 L446.53,220.62 L449.43,221.34 L452.47,222.03 L455.68,222.67 L459.05,223.27 L462.59,223.85 L466.32,224.41 L470.25,224.96 L474.37,225.53 L478.72,226.11 L483.29,226.72 L488.09,227.24 L493.15,227.67 L498.47,228.08 L504.07,228.54 L509.95,229.12 L516.15,229.60 L522.66,229.93 L529.52,230.20 L536.73,230.51 L544.32,230.96 L552.30,231.54 L560.70,232.04 L569.53,232.46 L578.82,232.82 L588.60,233.19 L598.89,233.60 L609.71,234.11 L609.71,248.07 L598.89,247.34 L588.60,246.51 L578.82,245.63 L569.53,244.75 L560.70,243.92 L552.30,243.18 L544.32,242.52 L536.73,241.72 L529.52,240.79 L522.66,239.82 L516.15,238.91 L509.95,238.14 L504.07,237.47 L498.47,236.70 L493.15,235.86 L488.09,235.04 L483.29,234.32 L478.72,233.69 L474.37,233.03 L470.25,232.35 L466.32,231.66 L462.59,230.98 L459.05,230.31 L455.68,229.67 L452.47,229.07 L449.43,228.51 L446.53,227.99 L443.78,227.48 L441.17,226.96 L438.68,226.41 L436.32,225.82 L434.07,225.25 L431.94,224.80 L429.91,224.43 L427.98,224.10 L426.14,223.76 L424.40,223.38 L422.74,222.92 L421.17,222.35 L419.67,221.90 L418.25,221.68 L416.90,221.53 L415.61,221.26 L414.39,220.74 L413.23,220.25 L412.12,219.94 L411.07,219.75 L410.08,219.57 L409.13,219.33 L408.23,218.95 L407.37,218.39 L406.56,217.80 L405.78,217.27 L405.05,216.77 L404.35,216.29 L403.68,215.83 L403.05,215.36 L402.45,214.87 L401.88,214.35 L401.33,213.78 Z" fill="#afafaf" fill-opacity="0.5"/>
<circle cx="505.75" cy="24.80" r="1.6" fill="#fa0a0a"/>
<circle cx="433.25" cy="74.30" r="1.6" fill="#fa0a0a"/>
<circle cx="450.75" cy="93.30" r="1.6" fill="#fa0a0a"/>
<circle cx="433.00" cy="99.80" r="1.6" fill="#fa0a0a"/>
<circle cx="421.25" cy="109.55" r="1.6" fill="#fa0a0a"/>
<circle cx="439.75" cy="122.05" r="1.6" fill="#fa0a0a"/>
<circle cx="401.75" cy="127.55" r="1.6" fill="#fa0a0a"/>
<circle cx="411.50" cy="132.55" r="1.6" fill="#fa0a0a"/>
<circle cx="418.50" cy="133.05" r="1.6" fill="#fa0a0a"/>
<circle cx="424.25" cy="128.80" r="1.6" fill="#fa0a0a"/>
<circle cx="430.25" cy="133.30" r="1.6" fill="#fa0a0a"/>
<circle cx="436.75" cy="128.55" r="1.6" fill="#fa0a0a"/>
<circle cx="444.75" cy="132.05" r="1.6" fill="#fa0a0a"/>
<circle cx="447.50" cy="144.55" r="1.6" fill="#fa0a0a"/>
<circle cx="408.25" cy="162.30" r="1.6" fill="#fa0a0a"/>
<circle cx="438.25" cy="165.80" r="1.6" fill="#fa0a0a"/>
<circle cx="455.75" cy="176.80" r="1.6" fill="#fa0a0a"/>
<circle cx="487.75" cy="168.55" r="1.6" fill="#fa0a0a"/>
<circle cx="424.00" cy="188.30" r="1.6" fill="#fa0a0a"/>
<circle cx="411.75" cy="195.80" r="1.6" fill="#fa0a0a"/>
<circle cx="471.50" cy="191.55" r="1.6" fill="#fa0a0a"/>
<circle cx="414.50" cy="202.80" r="1.6" fill="#fa0a0a"/>
<circle cx="463.25" cy="199.55" r="1.6" fill="#fa0a0a"/>
<circle cx="436.25" cy="208.05" r="1.6" fill="#fa0a0a"/>
<circle cx="500.75" cy="202.80" r="1.6" fill="#fa0a0a"/>
<circle cx="409.75" cy="205.80" r="1.6" fill="#fa0a0a"/>
<circle cx="435.65" cy="212.20" r="1.6" fill="#fa0a0a"/>
<circle cx="401.95" cy="222.70" r="1.6" fill="#fa0a0a"/>
<circle cx="407.65" cy="218.80" r="1.6" fill="#fa0a0a"/>
<circle cx="414.65" cy="219.70" r="1.6" fill="#fa0a0a"/>
<circle cx="420.75" cy="218.40" r="1.6" fill="#fa0a0a"/>
<circle cx="422.05" cy="223.60" r="1.6" fill="#fa0a0a"/>
<circle cx="416.35" cy="224.50" r="1.6" fill="#fa0a0a"/>
<circle cx="414.25" cy="226.30" r="1.6" fill="#fa0a0a"/>
<circle cx="409.35" cy="225.80" r="1.6" fill="#fa0a0a"/>
<circle cx="419.85" cy="225.80" r="1.6" fill="#fa0a0a"/>
<circle cx="430.45" cy="224.10" r="1.6" fill="#fa0a0a"/>
<circle cx="436.55" cy="222.30" r="1.6" fill="#fa0a0a"/>
<circle cx="441.75" cy="227.10" r="1.6" fill="#fa0a0a"/>
<circle cx="481.65" cy="215.70" r="1.6" fill="#fa0a0a"/>
<circle cx="489.95" cy="214.00" r="1.6" fill="#fa0a0a"/>
<circle cx="470.65" cy="217.10" r="1.6" fill="#fa0a0a"/>
<circle cx="464.55" cy="217.50" r="1.6" fill="#fa0a0a"/>
<circle cx="466.75" cy="218.40" r="1.6" fill="#fa0a0a"/>
<circle cx="478.15" cy="223.20" r="1.6" fill="#fa0a0a"/>
<circle cx="472.05" cy="225.80" r="1.6" fill="#fa0a0a"/>
<circle cx="459.35" cy="226.30" r="1.6" fill="#fa0a0a"/>
<circle cx="512.25" cy="225.40" r="1.6" fill="#fa0a0a"/>
<circle cx="586.85" cy="219.90" r="1.6" fill="#fa0a0a"/>
<circle cx="589.55" cy="220.30" r="1.6" fill="#fa0a0a"/>
<circle cx="587.75" cy="229.50" r="1.6" fill="#fa0a0a"/>
<circle cx="605.25" cy="229.50" r="1.6" fill="#fa0a0a"/>
<circle cx="610.55" cy="230.50" r="1.6" fill="#fa0a0a"/>
<circle cx="595.25" cy="234.70" r="1.6" fill="#fa0a0a"/>
<circle cx="590.85" cy="236.90" r="1.6" fill="#fa0a0a"/>
<circle cx="593.85" cy="239.60" r="1.6" fill="#fa0a0a"/>
<circle cx="596.55" cy="240.40" r="1.6" fill="#fa0a0a"/>
<circle cx="586.45" cy="241.30" r="1.6" fill="#fa0a0a"/>
<circle cx="591.25" cy="242.60" r="1.6" fill="#fa0a0a"/>
<circle cx="582.95" cy="243.90" r="1.6" fill="#fa0a0a"/>
<circle cx="595.65" cy="241.70" r="1.6" fill="#fa0a0a"/>
<circle cx="402.55" cy="229.50" r="1.6" fill="#fa0a0a"/>
<circle cx="404.85" cy="228.70" r="1.6" fill="#fa0a0a"/>
<circle cx="405.65" cy="236.10" r="1.6" fill="#fa0a0a"/>
<circle cx="408.05" cy="232.20" r="1.6" fill="#fa0a0a"/>
<circle cx="409.95" cy="232.20" r="1.6" fill="#fa0a0a"/>
<circle cx="408.85" cy="235.40" r="1.6" fill="#fa0a0a"/>
<circle cx="411.15" cy="235.40" r="1.6" fill="#fa0a0a"/>
<circle cx="409.95" cy="238.10" r="1.6" fill="#fa0a0a"/>
<circle cx="414.35" cy="243.20" r="1.6" fill="#fa0a0a"/>
<circle cx="415.05" cy="236.10" r="1.6" fill="#fa0a0a"/>
<circle cx="413.15" cy="231.40" r="1.6" fill="#fa0a0a"/>
<circle cx="417.45" cy="231.40" r="1.6" fill="#fa0a0a"/>
<circle cx="419.05" cy="236.90" r="1.6" fill="#fa0a0a"/>
<circle cx="420.15" cy="240.10" r="1.6" fill="#fa0a0a"/>
<circle cx="421.35" cy="238.50" r="1.6" fill="#fa0a0a"/>
<circle cx="422.95" cy="241.30" r="1.6" fill="#fa0a0a"/>
<circle cx="425.25" cy="238.10" r="1.6" fill="#fa0a0a"/>
<circle cx="426.85" cy="238.10" r="1.6" fill="#fa0a0a"/>
<circle cx="426.45" cy="244.00" r="1.6" fill="#fa0a0a"/>
<circle cx="428.45" cy="241.60" r="1.6" fill="#fa0a0a"/>
<circle cx="429.25" cy="233.00" r="1.6" fill="#fa0a0a"/>
<circle cx="422.15" cy="231.40" r="1.6" fill="#fa0a0a"/>
<circle cx="424.15" cy="232.20" r="1.6" fill="#fa0a0a"/>
<circle cx="431.05" cy="229.90" r="1.6" fill="#fa0a0a"/>
<circle cx="431.85" cy="232.60" r="1.6" fill="#fa0a0a"/>
<circle cx="437.35" cy="240.50" r="1.6" fill="#fa0a0a"/>
<circle cx="439.25" cy="241.30" r="1.6" fill="#fa0a0a"/>
<circle cx="435.75" cy="237.30" r="1.6" fill="#fa0a0a"/>
<circle cx="438.05" cy="237.70" r="1.6" fill="#fa0a0a"/>
<circle cx="442.45" cy="239.70" r="1.6" fill="#fa0a0a"/>
<circle cx="444.35" cy="240.90" r="1.6" fill="#fa0a0a"/>
<circle cx="445.55" cy="238.10" r="1.6" fill="#fa0a0a"/>
<circle cx="447.15" cy="236.10" r="1.6" fill="#fa0a0a"/>
<circle cx="448.65" cy="235.40" r="1.6" fill="#fa0a0a"/>
<circle cx="446.75" cy="241.30" r="1.6" fill="#fa0a0a"/>
<circle cx="449.45" cy="238.90" r="1.6" fill="#fa0a0a"/>
<circle cx="451.05" cy="241.30" r="1.6" fill="#fa0a0a"/>
<circle cx="452.65" cy="237.30" r="1.6" fill="#fa0a0a"/>
<circle cx="453.75" cy="239.70" r="1.6" fill="#fa0a0a"/>
<circle cx="455.35" cy="241.60" r="1.6" fill="#fa0a0a"/>
<circle cx="457.35" cy="240.10" r="1.6" fill="#fa0a0a"/>
<circle cx="451.05" cy="233.80" r="1.6" fill="#fa0a0a"/>
<circle cx="453.05" cy="231.80" r="1.6" fill="#fa0a0a"/>
<circle cx="449.05" cy="231.40" r="1.6" fill="#fa0a0a"/>
<circle cx="457.35" cy="231.00" r="1.6" fill="#fa0a0a"/>
<circle cx="459.25" cy="233.00" r="1.6" fill="#fa0a0a"/>
<circle cx="460.85" cy="235.40" r="1.6" fill="#fa0a0a"/>
<circle cx="460.45" cy="239.30" r="1.6" fill="#fa0a0a"/>
<circle cx="462.85" cy="235.40" r="1.6" fill="#fa0a0a"/>
<circle cx="444.35" cy="229.10" r="1.6" fill="#fa0a0a"/>
<circle cx="439.25" cy="234.60" r="1.6" fill="#fa0a0a"/>
<circle cx="442.85" cy="232.20" r="1.6" fill="#fa0a0a"/>
<circle cx="465.05" cy="233.80" r="1.6" fill="#fa0a0a"/>
<circle cx="468.15" cy="238.50" r="1.6" fill="#fa0a0a"/>
<circle cx="468.15" cy="242.40" r="1.6" fill="#fa0a0a"/>
<circle cx="472.05" cy="239.30" r="1.6" fill="#fa0a0a"/>
<circle cx="474.45" cy="237.30" r="1.6" fill="#fa0a0a"/>
<circle cx="476.05" cy="242.40" r="1.6" fill="#fa0a0a"/>
<circle cx="476.85" cy="240.10" r="1.6" fill="#fa0a0a"/>
<circle cx="478.35" cy="234.60" r="1.6" fill="#fa0a0a"/>
<circle cx="480.75" cy="238.50" r="1.6" fill="#fa0a0a"/>
<circle cx="481.15" cy="241.30" r="1.6" fill="#fa0a0a"/>
<circle cx="483.05" cy="239.30" r="1.6" fill="#fa0a0a"/>
<circle cx="484.25" cy="242.00" r="1.6" fill="#fa0a0a"/>
<circle cx="486.25" cy="240.10" r="1.6" fill="#fa0a0a"/>
<circle cx="487.75" cy="242.00" r="1.6" fill="#fa0a0a"/>
<circle cx="486.65" cy="246.70" r="1.6" fill="#fa0a0a"/>
<circle cx="491.75" cy="237.70" r="1.6" fill="#fa0a0a"/>
<circle cx="492.85" cy="240.90" r="1.6" fill="#fa0a0a"/>
<circle cx="494.85" cy="242.00" r="1.6" fill="#fa0a0a"/>
<circle cx="496.45" cy="239.70" r="1.6" fill="#fa0a0a"/>
<circle cx="497.25" cy="243.20" r="1.6" fill="#fa0a0a"/>
<circle cx="483.85" cy="232.20" r="1.6" fill="#fa0a0a"/>
<circle cx="487.75" cy="229.90" r="1.6" fill="#fa0a0a"/>
<circle cx="472.05" cy="236.10" r="1.6" fill="#fa0a0a"/>
<circle cx="499.05" cy="240.10" r="1.6" fill="#fa0a0a"/>
<circle cx="499.45" cy="242.80" r="1.6" fill="#fa0a0a"/>
<circle cx="501.75" cy="241.30" r="1.6" fill="#fa0a0a"/>
<circle cx="504.15" cy="242.40" r="1.6" fill="#fa0a0a"/>
<circle cx="506.05" cy="240.50" r="1.6" fill="#fa0a0a"/>
<circle cx="508.05" cy="244.80" r="1.6" fill="#fa0a0a"/>
<circle cx="510.05" cy="240.10" r="1.6" fill="#fa0a0a"/>
<circle cx="511.25" cy="242.80" r="1.6" fill="#fa0a0a"/>
<circle cx="513.15" cy="239.70" r="1.6" fill="#fa0a0a"/>
<circle cx="514.75" cy="244.80" r="1.6" fill="#fa0a0a"/>
<circle cx="516.35" cy="240.90" r="1.6" fill="#fa0a0a"/>
<circle cx="518.25" cy="241.30" r="1.6" fill="#fa0a0a"/>
<circle cx="520.25" cy="240.50" r="1.6" fill="#fa0a0a"/>
<circle cx="521.75" cy="242.40" r="1.6" fill="#fa0a0a"/>
<circle cx="522.95" cy="243.20" r="1.6" fill="#fa0a0a"/>
<circle cx="518.65" cy="229.10" r="1.6" fill="#fa0a0a"/>
<circle cx="522.95" cy="229.10" r="1.6" fill="#fa0a0a"/>
<circle cx="500.95" cy="231.00" r="1.6" fill="#fa0a0a"/>
<circle cx="504.55" cy="231.00" r="1.6" fill="#fa0a0a"/>
<circle cx="502.95" cy="234.60" r="1.6" fill="#fa0a0a"/>
<circle cx="512.35" cy="235.80" r="1.6" fill="#fa0a0a"/>
<rect x="448.10" y="73.40" width="2.1" height="2.3" fill="none" stroke="#4f4fdc" stroke-width="0.85"/>
<rect x="504.35" y="98.15" width="2.1" height="2.3" fill="none" stroke="#4f4fdc" stroke-width="0.85"/>
<rect x="452.35" y="113.65" width="2.1" height="2.3" fill="none" stroke="#4f4fdc" stroke-width="0.85"/>
<rect x="415.10" y="123.15" width="2.1" height="2.3" fill="none" stroke="#4f4fdc" stroke-width="0.85"/>
<rect x="425.60" y="124.40" width="2.1" height="2.3" fill="none" stroke="#4f4fdc" stroke-width="0.85"/>
<rect x="435.35" y="121.40" width="2.1" height="2.3" fill="none" stroke="#4f4fdc" stroke-width="0.85"/>
<rect x="432.10" y="126.90" width="2.1" height="2.3" fill="none" stroke="#4f4fdc" stroke-width="0.85"/>
<rect x="438.60" y="125.65" width="2.1" height="2.3" fill="none" stroke="#4f4fdc" stroke-width="0.85"/>
<rect x="452.60" y="128.15" width="2.1" height="2.3" fill="none" stroke="#4f4fdc" stroke-width="0.85"/>
<rect x="457.10" y="133.40" width="2.1" height="2.3" fill="none" stroke="#4f4fdc" stroke-width="0.85"/>
<rect x="400.60" y="126.40" width="2.1" height="2.3" fill="none" stroke="#4f4fdc" stroke-width="0.85"/>
<rect x="412.60" y="167.65" width="2.1" height="2.3" fill="none" stroke="#4f4fdc" stroke-width="0.85"/>
<rect x="409.10" y="176.65" width="2.1" height="2.3" fill="none" stroke="#4f4fdc" stroke-width="0.85"/>
<rect x="419.10" y="173.40" width="2.1" height="2.3" fill="none" stroke="#4f4fdc" stroke-width="0.85"/>
<rect x="423.10" y="172.40" width="2.1" height="2.3" fill="none" stroke="#4f4fdc" stroke-width="0.85"/>
<rect x="442.35" y="165.90" width="2.1" height="2.3" fill="none" stroke="#4f4fdc" stroke-width="0.85"/>
<rect x="451.35" y="156.65" width="2.1" height="2.3" fill="none" stroke="#4f4fdc" stroke-width="0.85"/>
<rect x="454.60" y="159.65" width="2.1" height="2.3" fill="none" stroke="#4f4fdc" stroke-width="0.85"/>
<rect x="459.85" y="165.90" width="2.1" height="2.3" fill="none" stroke="#4f4fdc" stroke-width="0.85"/>
<rect x="478.85" y="171.40" width="2.1" height="2.3" fill="none" stroke="#4f4fdc" stroke-width="0.85"/>
<rect x="485.60" y="161.40" width="2.1" height="2.3" fill="none" stroke="#4f4fdc" stroke-width="0.85"/>
<rect x="486.35" y="155.40" width="2.1" height="2.3" fill="none" stroke="#4f4fdc" stroke-width="0.85"/>
<rect x="488.85" y="154.40" width="2.1" height="2.3" fill="none" stroke="#4f4fdc" stroke-width="0.85"/>
<rect x="421.85" y="196.65" width="2.1" height="2.3" fill="none" stroke="#4f4fdc" stroke-width="0.85"/>
<rect x="436.35" y="193.40" width="2.1" height="2.3" fill="none" stroke="#4f4fdc" stroke-width="0.85"/>
<rect x="440.60" y="191.90" width="2.1" height="2.3" fill="none" stroke="#4f4fdc" stroke-width="0.85"/>
<rect x="436.35" y="200.40" width="2.1" height="2.3" fill="none" stroke="#4f4fdc" stroke-width="0.85"/>
<rect x="446.35" y="203.15" width="2.1" height="2.3" fill="none" stroke="#4f4fdc" stroke-width="0.85"/>
<rect x="461.60" y="206.15" width="2.1" height="2.3" fill="none" stroke="#4f4fdc" stroke-width="0.85"/>
<rect x="467.10" y="197.65" width="2.1" height="2.3" fill="none" stroke="#4f4fdc" stroke-width="0.85"/>
<rect x="470.60" y="201.40" width="2.1" height="2.3" fill="none" stroke="#4f4fdc" stroke-width="0.85"/>
<rect x="484.35" y="200.40" width="2.1" height="2.3" fill="none" stroke="#4f4fdc" stroke-width="0.85"/>
<rect x="498.35" y="199.40" width="2.1" height="2.3" fill="none" stroke="#4f4fdc" stroke-width="0.85"/>
<rect x="603.60" y="118.40" width="2.1" height="2.3" fill="none" stroke="#4f4fdc" stroke-width="0.85"/>
<rect x="517.10" y="212.15" width="2.1" height="2.3" fill="none" stroke="#4f4fdc" stroke-width="0.85"/>
<rect x="401.20" y="208.35" width="2.1" height="2.3" fill="none" stroke="#4f4fdc" stroke-width="0.85"/>
<rect x="414.80" y="209.35" width="2.1" height="2.3" fill="none" stroke="#4f4fdc" stroke-width="0.85"/>
<rect x="436.70" y="210.45" width="2.1" height="2.3" fill="none" stroke="#4f4fdc" stroke-width="0.85"/>
<rect x="447.60" y="210.65" width="2.1" height="2.3" fill="none" stroke="#4f4fdc" stroke-width="0.85"/>
<rect x="448.50" y="213.25" width="2.1" height="2.3" fill="none" stroke="#4f4fdc" stroke-width="0.85"/>
<rect x="449.80" y="214.55" width="2.1" height="2.3" fill="none" stroke="#4f4fdc" stroke-width="0.85"/>
<rect x="408.20" y="211.55" width="2.1" height="2.3" fill="none" stroke="#4f4fdc" stroke-width="0.85"/>
<rect x="408.20" y="214.55" width="2.1" height="2.3" fill="none" stroke="#4f4fdc" stroke-width="0.85"/>
<rect x="408.70" y="217.65" width="2.1" height="2.3" fill="none" stroke="#4f4fdc" stroke-width="0.85"/>
<rect x="408.70" y="220.25" width="2.1" height="2.3" fill="none" stroke="#4f4fdc" stroke-width="0.85"/>
<rect x="410.40" y="216.75" width="2.1" height="2.3" fill="none" stroke="#4f4fdc" stroke-width="0.85"/>
<rect x="406.00" y="217.25" width="2.1" height="2.3" fill="none" stroke="#4f4fdc" stroke-width="0.85"/>
<rect x="422.20" y="219.45" width="2.1" height="2.3" fill="none" stroke="#4f4fdc" stroke-width="0.85"/>
<rect x="425.30" y="221.55" width="2.1" height="2.3" fill="none" stroke="#4f4fdc" stroke-width="0.85"/>
<rect x="430.60" y="216.75" width="2.1" height="2.3" fill="none" stroke="#4f4fdc" stroke-width="0.85"/>
<rect x="428.80" y="220.75" width="2.1" height="2.3" fill="none" stroke="#4f4fdc" stroke-width="0.85"/>
<rect x="434.90" y="223.35" width="2.1" height="2.3" fill="none" stroke="#4f4fdc" stroke-width="0.85"/>
<rect x="445.90" y="221.15" width="2.1" height="2.3" fill="none" stroke="#4f4fdc" stroke-width="0.85"/>
<rect x="451.10" y="222.45" width="2.1" height="2.3" fill="none" stroke="#4f4fdc" stroke-width="0.85"/>
<rect x="406.50" y="225.95" width="2.1" height="2.3" fill="none" stroke="#4f4fdc" stroke-width="0.85"/>
<rect x="408.20" y="224.25" width="2.1" height="2.3" fill="none" stroke="#4f4fdc" stroke-width="0.85"/>
<rect x="417.40" y="224.65" width="2.1" height="2.3" fill="none" stroke="#4f4fdc" stroke-width="0.85"/>
<rect x="421.40" y="226.85" width="2.1" height="2.3" fill="none" stroke="#4f4fdc" stroke-width="0.85"/>
<rect x="449.40" y="225.95" width="2.1" height="2.3" fill="none" stroke="#4f4fdc" stroke-width="0.85"/>
<rect x="454.60" y="212.45" width="2.1" height="2.3" fill="none" stroke="#4f4fdc" stroke-width="0.85"/>
<rect x="462.50" y="211.05" width="2.1" height="2.3" fill="none" stroke="#4f4fdc" stroke-width="0.85"/>
<rect x="458.60" y="213.25" width="2.1" height="2.3" fill="none" stroke="#4f4fdc" stroke-width="0.85"/>
<rect x="456.00" y="212.45" width="2.1" height="2.3" fill="none" stroke="#4f4fdc" stroke-width="0.85"/>
<rect x="467.40" y="215.45" width="2.1" height="2.3" fill="none" stroke="#4f4fdc" stroke-width="0.85"/>
<rect x="472.60" y="215.05" width="2.1" height="2.3" fill="none" stroke="#4f4fdc" stroke-width="0.85"/>
<rect x="475.70" y="215.45" width="2.1" height="2.3" fill="none" stroke="#4f4fdc" stroke-width="0.85"/>
<rect x="483.60" y="217.25" width="2.1" height="2.3" fill="none" stroke="#4f4fdc" stroke-width="0.85"/>
<rect x="499.80" y="215.45" width="2.1" height="2.3" fill="none" stroke="#4f4fdc" stroke-width="0.85"/>
<rect x="505.00" y="210.65" width="2.1" height="2.3" fill="none" stroke="#4f4fdc" stroke-width="0.85"/>
<rect x="508.10" y="212.45" width="2.1" height="2.3" fill="none" stroke="#4f4fdc" stroke-width="0.85"/>
<rect x="496.70" y="218.05" width="2.1" height="2.3" fill="none" stroke="#4f4fdc" stroke-width="0.85"/>
<rect x="509.00" y="218.05" width="2.1" height="2.3" fill="none" stroke="#4f4fdc" stroke-width="0.85"/>
<rect x="457.70" y="218.55" width="2.1" height="2.3" fill="none" stroke="#4f4fdc" stroke-width="0.85"/>
<rect x="461.70" y="220.25" width="2.1" height="2.3" fill="none" stroke="#4f4fdc" stroke-width="0.85"/>
<rect x="469.50" y="221.15" width="2.1" height="2.3" fill="none" stroke="#4f4fdc" stroke-width="0.85"/>
<rect x="475.20" y="220.25" width="2.1" height="2.3" fill="none" stroke="#4f4fdc" stroke-width="0.85"/>
<rect x="482.20" y="221.15" width="2.1" height="2.3" fill="none" stroke="#4f4fdc" stroke-width="0.85"/>
<rect x="487.90" y="222.45" width="2.1" height="2.3" fill="none" stroke="#4f4fdc" stroke-width="0.85"/>
<rect x="492.30" y="221.15" width="2.1" height="2.3" fill="none" stroke="#4f4fdc" stroke-width="0.85"/>
<rect x="492.80" y="224.25" width="2.1" height="2.3" fill="none" stroke="#4f4fdc" stroke-width="0.85"/>
<rect x="499.80" y="224.65" width="2.1" height="2.3" fill="none" stroke="#4f4fdc" stroke-width="0.85"/>
<rect x="502.40" y="225.55" width="2.1" height="2.3" fill="none" stroke="#4f4fdc" stroke-width="0.85"/>
<rect x="506.30" y="223.35" width="2.1" height="2.3" fill="none" stroke="#4f4fdc" stroke-width="0.85"/>
<rect x="512.90" y="226.45" width="2.1" height="2.3" fill="none" stroke="#4f4fdc" stroke-width="0.85"/>
<rect x="480.50" y="225.15" width="2.1" height="2.3" fill="none" stroke="#4f4fdc" stroke-width="0.85"/>
<rect x="462.10" y="224.65" width="2.1" height="2.3" fill="none" stroke="#4f4fdc" stroke-width="0.85"/>
<rect x="476.10" y="226.85" width="2.1" height="2.3" fill="none" stroke="#4f4fdc" stroke-width="0.85"/>
<rect x="519.40" y="220.95" width="2.1" height="2.3" fill="none" stroke="#4f4fdc" stroke-width="0.85"/>
<rect x="585.30" y="215.65" width="2.1" height="2.3" fill="none" stroke="#4f4fdc" stroke-width="0.85"/>
<rect x="585.70" y="223.55" width="2.1" height="2.3" fill="none" stroke="#4f4fdc" stroke-width="0.85"/>
<rect x="589.70" y="226.15" width="2.1" height="2.3" fill="none" stroke="#4f4fdc" stroke-width="0.85"/>
<rect x="593.60" y="226.85" width="2.1" height="2.3" fill="none" stroke="#4f4fdc" stroke-width="0.85"/>
<rect x="595.40" y="226.65" width="2.1" height="2.3" fill="none" stroke="#4f4fdc" stroke-width="0.85"/>
<rect x="608.90" y="226.65" width="2.1" height="2.3" fill="none" stroke="#4f4fdc" stroke-width="0.85"/>
<rect x="589.20" y="230.55" width="2.1" height="2.3" fill="none" stroke="#4f4fdc" stroke-width="0.85"/>
<rect x="581.80" y="233.15" width="2.1" height="2.3" fill="none" stroke="#4f4fdc" stroke-width="0.85"/>
<rect x="586.60" y="232.75" width="2.1" height="2.3" fill="none" stroke="#4f4fdc" stroke-width="0.85"/>
<rect x="587.10" y="234.95" width="2.1" height="2.3" fill="none" stroke="#4f4fdc" stroke-width="0.85"/>
<rect x="594.50" y="235.75" width="2.1" height="2.3" fill="none" stroke="#4f4fdc" stroke-width="0.85"/>
<rect x="608.90" y="236.25" width="2.1" height="2.3" fill="none" stroke="#4f4fdc" stroke-width="0.85"/>
<rect x="587.90" y="240.15" width="2.1" height="2.3" fill="none" stroke="#4f4fdc" stroke-width="0.85"/>
<rect x="592.30" y="243.25" width="2.1" height="2.3" fill="none" stroke="#4f4fdc" stroke-width="0.85"/>
<rect x="584.90" y="244.55" width="2.1" height="2.3" fill="none" stroke="#4f4fdc" stroke-width="0.85"/>
<rect x="589.70" y="237.95" width="2.1" height="2.3" fill="none" stroke="#4f4fdc" stroke-width="0.85"/>
<rect x="400.20" y="231.45" width="2.1" height="2.3" fill="none" stroke="#4f4fdc" stroke-width="0.85"/>
<rect x="404.50" y="232.65" width="2.1" height="2.3" fill="none" stroke="#4f4fdc" stroke-width="0.85"/>
<rect x="408.40" y="237.75" width="2.1" height="2.3" fill="none" stroke="#4f4fdc" stroke-width="0.85"/>
<rect x="407.70" y="228.35" width="2.1" height="2.3" fill="none" stroke="#4f4fdc" stroke-width="0.85"/>
<rect x="410.80" y="228.35" width="2.1" height="2.3" fill="none" stroke="#4f4fdc" stroke-width="0.85"/>
<rect x="413.90" y="228.75" width="2.1" height="2.3" fill="none" stroke="#4f4fdc" stroke-width="0.85"/>
<rect x="413.90" y="232.25" width="2.1" height="2.3" fill="none" stroke="#4f4fdc" stroke-width="0.85"/>
<rect x="417.90" y="228.35" width="2.1" height="2.3" fill="none" stroke="#4f4fdc" stroke-width="0.85"/>
<rect x="419.80" y="232.65" width="2.1" height="2.3" fill="none" stroke="#4f4fdc" stroke-width="0.85"/>
<rect x="420.60" y="230.65" width="2.1" height="2.3" fill="none" stroke="#4f4fdc" stroke-width="0.85"/>
<rect x="421.00" y="242.45" width="2.1" height="2.3" fill="none" stroke="#4f4fdc" stroke-width="0.85"/>
<rect x="423.40" y="231.85" width="2.1" height="2.3" fill="none" stroke="#4f4fdc" stroke-width="0.85"/>
<rect x="425.30" y="232.65" width="2.1" height="2.3" fill="none" stroke="#4f4fdc" stroke-width="0.85"/>
<rect x="422.20" y="228.75" width="2.1" height="2.3" fill="none" stroke="#4f4fdc" stroke-width="0.85"/>
<rect x="427.30" y="227.95" width="2.1" height="2.3" fill="none" stroke="#4f4fdc" stroke-width="0.85"/>
<rect x="418.60" y="234.65" width="2.1" height="2.3" fill="none" stroke="#4f4fdc" stroke-width="0.85"/>
<rect x="432.20" y="233.05" width="2.1" height="2.3" fill="none" stroke="#4f4fdc" stroke-width="0.85"/>
<rect x="435.80" y="227.95" width="2.1" height="2.3" fill="none" stroke="#4f4fdc" stroke-width="0.85"/>
<rect x="436.90" y="230.65" width="2.1" height="2.3" fill="none" stroke="#4f4fdc" stroke-width="0.85"/>
<rect x="436.90" y="233.85" width="2.1" height="2.3" fill="none" stroke="#4f4fdc" stroke-width="0.85"/>
<rect x="436.60" y="235.35" width="2.1" height="2.3" fill="none" stroke="#4f4fdc" stroke-width="0.85"/>
<rect x="441.70" y="232.65" width="2.1" height="2.3" fill="none" stroke="#4f4fdc" stroke-width="0.85"/>
<rect x="443.60" y="229.85" width="2.1" height="2.3" fill="none" stroke="#4f4fdc" stroke-width="0.85"/>
<rect x="444.80" y="227.95" width="2.1" height="2.3" fill="none" stroke="#4f4fdc" stroke-width="0.85"/>
<rect x="441.70" y="241.25" width="2.1" height="2.3" fill="none" stroke="#4f4fdc" stroke-width="0.85"/>
<rect x="443.60" y="242.85" width="2.1" height="2.3" fill="none" stroke="#4f4fdc" stroke-width="0.85"/>
<rect x="450.30" y="228.75" width="2.1" height="2.3" fill="none" stroke="#4f4fdc" stroke-width="0.85"/>
<rect x="452.60" y="233.05" width="2.1" height="2.3" fill="none" stroke="#4f4fdc" stroke-width="0.85"/>
<rect x="454.20" y="231.85" width="2.1" height="2.3" fill="none" stroke="#4f4fdc" stroke-width="0.85"/>
<rect x="455.80" y="236.15" width="2.1" height="2.3" fill="none" stroke="#4f4fdc" stroke-width="0.85"/>
<rect x="457.00" y="234.95" width="2.1" height="2.3" fill="none" stroke="#4f4fdc" stroke-width="0.85"/>
<rect x="461.30" y="230.65" width="2.1" height="2.3" fill="none" stroke="#4f4fdc" stroke-width="0.85"/>
<rect x="433.80" y="228.75" width="2.1" height="2.3" fill="none" stroke="#4f4fdc" stroke-width="0.85"/>
<rect x="439.30" y="228.35" width="2.1" height="2.3" fill="none" stroke="#4f4fdc" stroke-width="0.85"/>
<rect x="464.30" y="231.05" width="2.1" height="2.3" fill="none" stroke="#4f4fdc" stroke-width="0.85"/>
<rect x="464.70" y="235.75" width="2.1" height="2.3" fill="none" stroke="#4f4fdc" stroke-width="0.85"/>
<rect x="467.40" y="230.65" width="2.1" height="2.3" fill="none" stroke="#4f4fdc" stroke-width="0.85"/>
<rect x="470.60" y="234.25" width="2.1" height="2.3" fill="none" stroke="#4f4fdc" stroke-width="0.85"/>
<rect x="469.80" y="238.55" width="2.1" height="2.3" fill="none" stroke="#4f4fdc" stroke-width="0.85"/>
<rect x="468.20" y="238.15" width="2.1" height="2.3" fill="none" stroke="#4f4fdc" stroke-width="0.85"/>
<rect x="474.50" y="238.15" width="2.1" height="2.3" fill="none" stroke="#4f4fdc" stroke-width="0.85"/>
<rect x="476.10" y="230.25" width="2.1" height="2.3" fill="none" stroke="#4f4fdc" stroke-width="0.85"/>
<rect x="478.00" y="231.05" width="2.1" height="2.3" fill="none" stroke="#4f4fdc" stroke-width="0.85"/>
<rect x="479.60" y="233.45" width="2.1" height="2.3" fill="none" stroke="#4f4fdc" stroke-width="0.85"/>
<rect x="480.80" y="229.85" width="2.1" height="2.3" fill="none" stroke="#4f4fdc" stroke-width="0.85"/>
<rect x="484.30" y="231.85" width="2.1" height="2.3" fill="none" stroke="#4f4fdc" stroke-width="0.85"/>
<rect x="486.30" y="234.65" width="2.1" height="2.3" fill="none" stroke="#4f4fdc" stroke-width="0.85"/>
<rect x="489.00" y="231.85" width="2.1" height="2.3" fill="none" stroke="#4f4fdc" stroke-width="0.85"/>
<rect x="491.40" y="233.05" width="2.1" height="2.3" fill="none" stroke="#4f4fdc" stroke-width="0.85"/>
<rect x="492.50" y="234.65" width="2.1" height="2.3" fill="none" stroke="#4f4fdc" stroke-width="0.85"/>
<rect x="492.90" y="228.75" width="2.1" height="2.3" fill="none" stroke="#4f4fdc" stroke-width="0.85"/>
<rect x="495.30" y="230.25" width="2.1" height="2.3" fill="none" stroke="#4f4fdc" stroke-width="0.85"/>
<rect x="473.30" y="228.35" width="2.1" height="2.3" fill="none" stroke="#4f4fdc" stroke-width="0.85"/>
<rect x="498.70" y="236.95" width="2.1" height="2.3" fill="none" stroke="#4f4fdc" stroke-width="0.85"/>
<rect x="499.50" y="243.25" width="2.1" height="2.3" fill="none" stroke="#4f4fdc" stroke-width="0.85"/>
<rect x="500.60" y="237.75" width="2.1" height="2.3" fill="none" stroke="#4f4fdc" stroke-width="0.85"/>
<rect x="501.80" y="234.95" width="2.1" height="2.3" fill="none" stroke="#4f4fdc" stroke-width="0.85"/>
<rect x="503.80" y="239.35" width="2.1" height="2.3" fill="none" stroke="#4f4fdc" stroke-width="0.85"/>
<rect x="504.90" y="237.35" width="2.1" height="2.3" fill="none" stroke="#4f4fdc" stroke-width="0.85"/>
<rect x="506.50" y="229.55" width="2.1" height="2.3" fill="none" stroke="#4f4fdc" stroke-width="0.85"/>
<rect x="507.30" y="238.15" width="2.1" height="2.3" fill="none" stroke="#4f4fdc" stroke-width="0.85"/>
<rect x="509.70" y="233.45" width="2.1" height="2.3" fill="none" stroke="#4f4fdc" stroke-width="0.85"/>
<rect x="509.70" y="244.05" width="2.1" height="2.3" fill="none" stroke="#4f4fdc" stroke-width="0.85"/>
<rect x="512.40" y="233.05" width="2.1" height="2.3" fill="none" stroke="#4f4fdc" stroke-width="0.85"/>
<rect x="512.80" y="240.45" width="2.1" height="2.3" fill="none" stroke="#4f4fdc" stroke-width="0.85"/>
<rect x="514.00" y="235.35" width="2.1" height="2.3" fill="none" stroke="#4f4fdc" stroke-width="0.85"/>
<rect x="517.10" y="231.05" width="2.1" height="2.3" fill="none" stroke="#4f4fdc" stroke-width="0.85"/>
<rect x="517.50" y="235.35" width="2.1" height="2.3" fill="none" stroke="#4f4fdc" stroke-width="0.85"/>
<rect x="521.40" y="232.25" width="2.1" height="2.3" fill="none" stroke="#4f4fdc" stroke-width="0.85"/>
<rect x="521.40" y="234.95" width="2.1" height="2.3" fill="none" stroke="#4f4fdc" stroke-width="0.85"/>
<rect x="514.80" y="227.95" width="2.1" height="2.3" fill="none" stroke="#4f4fdc" stroke-width="0.85"/>
<rect x="497.90" y="234.65" width="2.1" height="2.3" fill="none" stroke="#4f4fdc" stroke-width="0.85"/>
<path d="M401.33,200.58 L401.88,200.95 L402.45,201.37 L403.05,201.83 L403.68,202.31 L404.35,202.80 L405.05,203.27 L405.78,203.72 L406.56,204.13 L407.37,204.48 L408.23,204.84 L409.13,205.33 L410.08,205.93 L411.07,206.58 L412.12,207.21 L413.23,207.76 L414.39,208.18 L415.61,208.56 L416.90,209.11 L418.25,209.73 L419.67,210.31 L421.17,210.74 L422.74,211.09 L424.40,211.51 L426.14,211.98 L427.98,212.49 L429.91,212.99 L431.94,213.47 L434.07,213.90 L436.32,214.25 L438.68,214.58 L441.17,214.95 L443.78,215.35 L446.53,215.75 L449.43,216.15 L452.47,216.51 L455.68,216.84 L459.05,217.13 L462.59,217.38 L466.32,217.61 L470.25,217.83 L474.37,218.07 L478.72,218.33 L483.29,218.63 L488.09,218.86 L493.15,219.01 L498.47,219.14 L504.07,219.32 L509.95,219.59 L516.15,219.79 L522.66,219.88 L529.52,219.92 L536.73,220.00 L544.32,220.18 L552.30,220.46 L560.70,220.69 L569.53,220.85 L578.82,220.97 L588.60,221.09 L598.89,221.24 L609.71,221.47 L609.71,234.44 L598.89,234.04 L588.60,233.58 L578.82,233.07 L569.53,232.56 L560.70,232.09 L552.30,231.69 L544.32,231.35 L536.73,230.90 L529.52,230.35 L522.66,229.77 L516.15,229.23 L509.95,228.80 L504.07,228.45 L498.47,228.01 L493.15,227.51 L488.09,227.03 L483.29,226.64 L478.72,226.31 L474.37,225.94 L470.25,225.55 L466.32,225.15 L462.59,224.75 L459.05,224.38 L455.68,224.04 L452.47,223.74 L449.43,223.48 L446.53,223.25 L443.78,223.03 L441.17,222.80 L438.68,222.54 L436.32,222.25 L434.07,221.97 L431.94,221.77 L429.91,221.62 L427.98,221.51 L426.14,221.39 L424.40,221.23 L422.74,221.03 L421.17,220.74 L419.67,220.55 L418.25,220.50 L416.90,220.50 L415.61,220.42 L414.39,220.18 L413.23,219.97 L412.12,219.89 L411.07,219.90 L410.08,219.92 L409.13,219.89 L408.23,219.76 L407.37,219.49 L406.56,219.22 L405.78,219.00 L405.05,218.82 L404.35,218.67 L403.68,218.53 L403.05,218.39 L402.45,218.22 L401.88,218.01 L401.33,217.76 Z" fill="#afafaf" fill-opacity="0.5"/>
<path d="M401.33,203.79 L401.88,204.41 L402.45,205.03 L403.05,205.65 L403.68,206.27 L404.35,206.90 L405.05,207.52 L405.78,208.14 L406.56,208.76 L407.37,209.38 L408.23,210.01 L409.13,210.63 L410.08,211.25 L411.07,211.87 L412.12,212.49 L413.23,213.11 L414.39,213.74 L415.61,214.36 L416.90,214.98 L418.25,215.60 L419.67,216.22 L421.17,216.84 L422.74,217.47 L424.40,218.09 L426.14,218.71 L427.98,219.33 L429.91,219.95 L431.94,220.57 L434.07,221.20 L436.32,221.82 L438.68,222.44 L441.17,223.06 L443.78,223.68 L446.53,224.30 L449.43,224.93 L452.47,225.55 L455.68,226.17 L459.05,226.79 L462.59,227.41 L466.32,228.03 L470.25,228.66 L474.37,229.28 L478.72,229.90 L483.29,230.52 L488.09,231.14 L493.15,231.77 L498.47,232.39 L504.07,233.01 L509.95,233.63 L516.15,234.25 L522.66,234.87 L529.52,235.50 L536.73,236.12 L544.32,236.74 L552.30,237.36 L560.70,237.98 L569.53,238.60 L578.82,239.23 L588.60,239.85 L598.89,240.47 L609.71,241.09" fill="none" stroke="#ee1c24" stroke-width="1"/>
<path d="M401.33,209.17 L401.88,209.48 L402.45,209.79 L403.05,210.11 L403.68,210.42 L404.35,210.73 L405.05,211.05 L405.78,211.36 L406.56,211.67 L407.37,211.99 L408.23,212.30 L409.13,212.61 L410.08,212.93 L411.07,213.24 L412.12,213.55 L413.23,213.86 L414.39,214.18 L415.61,214.49 L416.90,214.80 L418.25,215.12 L419.67,215.43 L421.17,215.74 L422.74,216.06 L424.40,216.37 L426.14,216.68 L427.98,217.00 L429.91,217.31 L431.94,217.62 L434.07,217.94 L436.32,218.25 L438.68,218.56 L441.17,218.88 L443.78,219.19 L446.53,219.50 L449.43,219.81 L452.47,220.13 L455.68,220.44 L459.05,220.75 L462.59,221.07 L466.32,221.38 L470.25,221.69 L474.37,222.01 L478.72,222.32 L483.29,222.63 L488.09,222.95 L493.15,223.26 L498.47,223.57 L504.07,223.89 L509.95,224.20 L516.15,224.51 L522.66,224.83 L529.52,225.14 L536.73,225.45 L544.32,225.76 L552.30,226.08 L560.70,226.39 L569.53,226.70 L578.82,227.02 L588.60,227.33 L598.89,227.64 L609.71,227.96" fill="none" stroke="#2020e0" stroke-width="1.1" stroke-dasharray="2.2,2.2"/>
<text class="eq" x="613.5" y="228.5" textLength="72.0" lengthAdjust="spacingAndGlyphs">y = -0.272 <tspan font-style="italic">ln</tspan>(x) + 1.8641</text>
<text class="eq" x="613.5" y="242.0" textLength="65.2" lengthAdjust="spacingAndGlyphs">y = -0.54 <tspan font-style="italic">ln</tspan>(x) + 2.109</text>
</g>
</svg>
</body></html>
